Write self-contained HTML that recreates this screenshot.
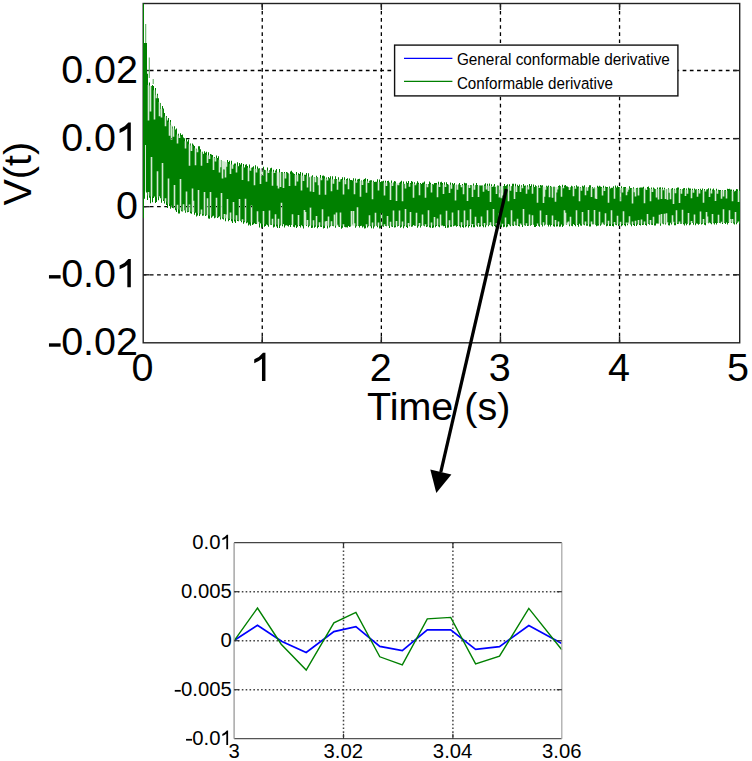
<!DOCTYPE html>
<html><head><meta charset="utf-8"><style>
html,body{margin:0;padding:0;background:#fff;}
body{width:752px;height:761px;overflow:hidden;font-family:"Liberation Sans", sans-serif;}
svg{display:block;}
</style></head><body>
<svg width="752" height="761" viewBox="0 0 752 761" font-family='"Liberation Sans", sans-serif'><rect width="752" height="761" fill="#fff"/><path d="M144.5 52.3 L145.5 52.4 L146.5 52.4 L147.5 76.5 L148.5 85.0 L149.5 85.5 L150.5 86.0 L151.5 86.5 L152.5 87.0 L153.5 88.5 L154.5 90.1 L155.5 92.4 L156.5 95.4 L157.5 97.9 L158.5 99.9 L159.5 102.0 L160.5 105.5 L161.5 108.9 L162.5 110.8 L163.5 112.7 L164.5 114.6 L165.5 116.5 L166.5 117.9 L167.5 119.2 L168.5 120.6 L169.5 121.9 L170.5 123.5 L171.5 125.1 L172.5 126.8 L173.5 128.5 L174.5 130.2 L175.5 131.7 L176.5 133.1 L177.5 134.4 L178.5 135.5 L179.5 136.3 L180.5 137.1 L181.5 138.0 L182.5 138.8 L183.5 139.6 L184.5 140.4 L185.5 141.2 L186.5 141.9 L187.5 142.7 L188.5 143.4 L189.5 144.2 L190.5 144.9 L191.5 145.7 L192.5 146.5 L193.5 147.0 L194.5 147.6 L195.5 148.2 L196.5 148.8 L197.5 149.4 L198.5 150.0 L199.5 150.6 L200.5 151.2 L201.5 151.7 L202.5 152.3 L203.5 152.9 L204.5 153.5 L205.5 154.1 L206.5 154.5 L207.5 154.9 L208.5 155.3 L209.5 155.7 L210.5 156.1 L211.5 156.5 L212.5 156.9 L213.5 157.3 L214.5 157.7 L215.5 158.1 L216.5 158.5 L217.5 158.9 L218.5 159.3 L219.5 159.7 L220.5 160.1 L221.5 160.5 L222.5 160.9 L223.5 161.3 L224.5 161.6 L225.5 162.0 L226.5 162.4 L227.5 162.8 L228.5 163.2 L229.5 163.6 L230.5 164.0 L231.5 164.3 L232.5 164.6 L233.5 164.8 L234.5 165.0 L235.5 165.2 L236.5 165.4 L237.5 165.6 L238.5 165.8 L239.5 166.0 L240.5 166.2 L241.5 166.4 L242.5 166.6 L243.5 166.8 L244.5 167.0 L245.5 167.2 L246.5 167.3 L247.5 167.5 L248.5 167.7 L249.5 167.8 L250.5 168.0 L251.5 168.2 L252.5 168.3 L253.5 168.5 L254.5 168.6 L255.5 168.8 L256.5 169.0 L257.5 169.1 L258.5 169.3 L259.5 169.4 L260.5 169.6 L261.5 169.8 L262.5 169.9 L263.5 170.1 L264.5 170.2 L265.5 170.4 L266.5 170.5 L267.5 170.7 L268.5 170.8 L269.5 170.9 L270.5 171.1 L271.5 171.2 L272.5 171.4 L273.5 171.5 L274.5 171.7 L275.5 171.8 L276.5 172.0 L277.5 172.1 L278.5 172.3 L279.5 172.4 L280.5 172.6 L281.5 172.7 L282.5 172.9 L283.5 173.0 L284.5 173.2 L285.5 173.3 L286.5 173.5 L287.5 173.6 L288.5 173.8 L289.5 173.9 L290.5 174.0 L291.5 174.2 L292.5 174.3 L293.5 174.4 L294.5 174.6 L295.5 174.7 L296.5 174.8 L297.5 175.0 L298.5 175.1 L299.5 175.2 L300.5 175.3 L301.5 175.5 L302.5 175.6 L303.5 175.7 L304.5 175.9 L305.5 176.0 L306.5 176.1 L307.5 176.3 L308.5 176.4 L309.5 176.5 L310.5 176.6 L311.5 176.8 L312.5 176.9 L313.5 177.0 L314.5 177.2 L315.5 177.3 L316.5 177.4 L317.5 177.6 L318.5 177.7 L319.5 177.8 L320.5 177.9 L321.5 178.1 L322.5 178.2 L323.5 178.3 L324.5 178.5 L325.5 178.6 L326.5 178.7 L327.5 178.9 L328.5 179.0 L329.5 179.1 L330.5 179.2 L331.5 179.3 L332.5 179.3 L333.5 179.4 L334.5 179.4 L335.5 179.5 L336.5 179.6 L337.5 179.6 L338.5 179.7 L339.5 179.8 L340.5 179.8 L341.5 179.9 L342.5 179.9 L343.5 180.0 L344.5 180.0 L345.5 180.1 L346.5 180.2 L347.5 180.2 L348.5 180.3 L349.5 180.3 L350.5 180.4 L351.5 180.5 L352.5 180.5 L353.5 180.6 L354.5 180.6 L355.5 180.7 L356.5 180.8 L357.5 180.8 L358.5 180.9 L359.5 180.9 L360.5 181.0 L361.5 181.1 L362.5 181.1 L363.5 181.2 L364.5 181.2 L365.5 181.3 L366.5 181.4 L367.5 181.4 L368.5 181.5 L369.5 181.6 L370.5 181.6 L371.5 181.7 L372.5 181.7 L373.5 181.8 L374.5 181.8 L375.5 181.9 L376.5 182.0 L377.5 182.0 L378.5 182.1 L379.5 182.2 L380.5 182.2 L381.5 182.3 L382.5 182.3 L383.5 182.4 L384.5 182.5 L385.5 182.5 L386.5 182.6 L387.5 182.6 L388.5 182.7 L389.5 182.8 L390.5 182.8 L391.5 182.9 L392.5 182.9 L393.5 183.0 L394.5 183.1 L395.5 183.1 L396.5 183.2 L397.5 183.2 L398.5 183.3 L399.5 183.4 L400.5 183.4 L401.5 183.4 L402.5 183.4 L403.5 183.5 L404.5 183.5 L405.5 183.5 L406.5 183.6 L407.5 183.6 L408.5 183.6 L409.5 183.6 L410.5 183.7 L411.5 183.7 L412.5 183.7 L413.5 183.8 L414.5 183.8 L415.5 183.8 L416.5 183.8 L417.5 183.9 L418.5 183.9 L419.5 183.9 L420.5 183.9 L421.5 184.0 L422.5 184.0 L423.5 184.0 L424.5 184.1 L425.5 184.1 L426.5 184.1 L427.5 184.1 L428.5 184.2 L429.5 184.2 L430.5 184.2 L431.5 184.2 L432.5 184.3 L433.5 184.3 L434.5 184.3 L435.5 184.4 L436.5 184.4 L437.5 184.4 L438.5 184.4 L439.5 184.5 L440.5 184.5 L441.5 184.5 L442.5 184.6 L443.5 184.6 L444.5 184.6 L445.5 184.6 L446.5 184.7 L447.5 184.7 L448.5 184.7 L449.5 184.7 L450.5 184.8 L451.5 184.8 L452.5 184.8 L453.5 184.9 L454.5 184.9 L455.5 184.9 L456.5 184.9 L457.5 185.0 L458.5 185.0 L459.5 185.0 L460.5 185.0 L461.5 185.1 L462.5 185.1 L463.5 185.1 L464.5 185.2 L465.5 185.2 L466.5 185.2 L467.5 185.2 L468.5 185.3 L469.5 185.3 L470.5 185.3 L471.5 185.4 L472.5 185.4 L473.5 185.4 L474.5 185.4 L475.5 185.5 L476.5 185.5 L477.5 185.5 L478.5 185.5 L479.5 185.6 L480.5 185.6 L481.5 185.6 L482.5 185.7 L483.5 185.7 L484.5 185.7 L485.5 185.7 L486.5 185.8 L487.5 185.8 L488.5 185.8 L489.5 185.9 L490.5 185.9 L491.5 185.9 L492.5 185.9 L493.5 186.0 L494.5 186.0 L495.5 186.0 L496.5 186.0 L497.5 186.1 L498.5 186.1 L499.5 186.1 L500.5 186.1 L501.5 186.2 L502.5 186.2 L503.5 186.2 L504.5 186.2 L505.5 186.2 L506.5 186.2 L507.5 186.3 L508.5 186.3 L509.5 186.3 L510.5 186.3 L511.5 186.3 L512.5 186.3 L513.5 186.4 L514.5 186.4 L515.5 186.4 L516.5 186.4 L517.5 186.4 L518.5 186.4 L519.5 186.5 L520.5 186.5 L521.5 186.5 L522.5 186.5 L523.5 186.5 L524.5 186.5 L525.5 186.5 L526.5 186.6 L527.5 186.6 L528.5 186.6 L529.5 186.6 L530.5 186.6 L531.5 186.6 L532.5 186.7 L533.5 186.7 L534.5 186.7 L535.5 186.7 L536.5 186.7 L537.5 186.7 L538.5 186.8 L539.5 186.8 L540.5 186.8 L541.5 186.8 L542.5 186.8 L543.5 186.8 L544.5 186.8 L545.5 186.9 L546.5 186.9 L547.5 186.9 L548.5 186.9 L549.5 186.9 L550.5 186.9 L551.5 187.0 L552.5 187.0 L553.5 187.0 L554.5 187.0 L555.5 187.0 L556.5 187.0 L557.5 187.1 L558.5 187.1 L559.5 187.1 L560.5 187.1 L561.5 187.1 L562.5 187.1 L563.5 187.2 L564.5 187.2 L565.5 187.2 L566.5 187.2 L567.5 187.2 L568.5 187.2 L569.5 187.2 L570.5 187.3 L571.5 187.3 L572.5 187.3 L573.5 187.3 L574.5 187.3 L575.5 187.3 L576.5 187.4 L577.5 187.4 L578.5 187.4 L579.5 187.4 L580.5 187.4 L581.5 187.4 L582.5 187.5 L583.5 187.5 L584.5 187.5 L585.5 187.5 L586.5 187.5 L587.5 187.5 L588.5 187.6 L589.5 187.6 L590.5 187.6 L591.5 187.6 L592.5 187.6 L593.5 187.6 L594.5 187.6 L595.5 187.7 L596.5 187.7 L597.5 187.7 L598.5 187.7 L599.5 187.7 L600.5 187.7 L601.5 187.8 L602.5 187.8 L603.5 187.8 L604.5 187.8 L605.5 187.8 L606.5 187.8 L607.5 187.9 L608.5 187.9 L609.5 187.9 L610.5 187.9 L611.5 187.9 L612.5 187.9 L613.5 188.0 L614.5 188.0 L615.5 188.0 L616.5 188.0 L617.5 188.0 L618.5 188.0 L619.5 188.0 L620.5 188.1 L621.5 188.1 L622.5 188.1 L623.5 188.1 L624.5 188.2 L625.5 188.2 L626.5 188.2 L627.5 188.2 L628.5 188.3 L629.5 188.3 L630.5 188.3 L631.5 188.3 L632.5 188.4 L633.5 188.4 L634.5 188.4 L635.5 188.5 L636.5 188.5 L637.5 188.5 L638.5 188.5 L639.5 188.6 L640.5 188.6 L641.5 188.6 L642.5 188.6 L643.5 188.7 L644.5 188.7 L645.5 188.7 L646.5 188.7 L647.5 188.8 L648.5 188.8 L649.5 188.8 L650.5 188.8 L651.5 188.9 L652.5 188.9 L653.5 188.9 L654.5 188.9 L655.5 189.0 L656.5 189.0 L657.5 189.0 L658.5 189.0 L659.5 189.1 L660.5 189.1 L661.5 189.1 L662.5 189.1 L663.5 189.2 L664.5 189.2 L665.5 189.2 L666.5 189.2 L667.5 189.3 L668.5 189.3 L669.5 189.3 L670.5 189.4 L671.5 189.4 L672.5 189.4 L673.5 189.4 L674.5 189.5 L675.5 189.5 L676.5 189.5 L677.5 189.5 L678.5 189.6 L679.5 189.6 L680.5 189.6 L681.5 189.6 L682.5 189.7 L683.5 189.7 L684.5 189.7 L685.5 189.7 L686.5 189.8 L687.5 189.8 L688.5 189.8 L689.5 189.8 L690.5 189.9 L691.5 189.9 L692.5 189.9 L693.5 189.9 L694.5 190.0 L695.5 190.0 L696.5 190.0 L697.5 190.0 L698.5 190.1 L699.5 190.1 L700.5 190.1 L701.5 190.1 L702.5 190.2 L703.5 190.2 L704.5 190.2 L705.5 190.2 L706.5 190.3 L707.5 190.3 L708.5 190.3 L709.5 190.4 L710.5 190.4 L711.5 190.4 L712.5 190.4 L713.5 190.5 L714.5 190.5 L715.5 190.5 L716.5 190.5 L717.5 190.6 L718.5 190.6 L719.5 190.6 L720.5 190.6 L721.5 190.7 L722.5 190.7 L723.5 190.7 L724.5 190.7 L725.5 190.8 L726.5 190.8 L727.5 190.8 L728.5 190.8 L729.5 190.9 L730.5 190.9 L731.5 190.9 L732.5 190.9 L733.5 191.0 L734.5 191.0 L735.5 191.0 L736.5 191.0 L737.5 191.1 L738.5 191.1 L739.5 191.1 L739.5 222.5 L738.5 222.5 L737.5 222.5 L736.5 222.5 L735.5 222.5 L734.5 222.5 L733.5 222.5 L732.5 222.6 L731.5 222.6 L730.5 222.6 L729.5 222.6 L728.5 222.6 L727.5 222.6 L726.5 222.6 L725.5 222.7 L724.5 222.7 L723.5 222.7 L722.5 222.7 L721.5 222.7 L720.5 222.7 L719.5 222.7 L718.5 222.7 L717.5 222.8 L716.5 222.8 L715.5 222.8 L714.5 222.8 L713.5 222.8 L712.5 222.8 L711.5 222.8 L710.5 222.9 L709.5 222.9 L708.5 222.9 L707.5 222.9 L706.5 222.9 L705.5 222.9 L704.5 222.9 L703.5 222.9 L702.5 223.0 L701.5 223.0 L700.5 223.0 L699.5 223.0 L698.5 223.0 L697.5 223.0 L696.5 223.0 L695.5 223.1 L694.5 223.1 L693.5 223.1 L692.5 223.1 L691.5 223.1 L690.5 223.1 L689.5 223.1 L688.5 223.1 L687.5 223.2 L686.5 223.2 L685.5 223.2 L684.5 223.2 L683.5 223.2 L682.5 223.2 L681.5 223.2 L680.5 223.2 L679.5 223.3 L678.5 223.3 L677.5 223.3 L676.5 223.3 L675.5 223.3 L674.5 223.3 L673.5 223.3 L672.5 223.4 L671.5 223.4 L670.5 223.4 L669.5 223.4 L668.5 223.4 L667.5 223.4 L666.5 223.4 L665.5 223.4 L664.5 223.5 L663.5 223.5 L662.5 223.5 L661.5 223.5 L660.5 223.5 L659.5 223.5 L658.5 223.5 L657.5 223.6 L656.5 223.6 L655.5 223.6 L654.5 223.6 L653.5 223.6 L652.5 223.6 L651.5 223.6 L650.5 223.6 L649.5 223.7 L648.5 223.7 L647.5 223.7 L646.5 223.7 L645.5 223.7 L644.5 223.7 L643.5 223.7 L642.5 223.7 L641.5 223.8 L640.5 223.8 L639.5 223.8 L638.5 223.8 L637.5 223.8 L636.5 223.8 L635.5 223.8 L634.5 223.9 L633.5 223.9 L632.5 223.9 L631.5 223.9 L630.5 223.9 L629.5 223.9 L628.5 223.9 L627.5 223.9 L626.5 224.0 L625.5 224.0 L624.5 224.0 L623.5 224.0 L622.5 224.0 L621.5 224.0 L620.5 224.0 L619.5 224.0 L618.5 224.1 L617.5 224.1 L616.5 224.1 L615.5 224.1 L614.5 224.1 L613.5 224.1 L612.5 224.1 L611.5 224.1 L610.5 224.1 L609.5 224.1 L608.5 224.1 L607.5 224.1 L606.5 224.1 L605.5 224.1 L604.5 224.2 L603.5 224.2 L602.5 224.2 L601.5 224.2 L600.5 224.2 L599.5 224.2 L598.5 224.2 L597.5 224.2 L596.5 224.2 L595.5 224.2 L594.5 224.2 L593.5 224.2 L592.5 224.2 L591.5 224.2 L590.5 224.2 L589.5 224.3 L588.5 224.3 L587.5 224.3 L586.5 224.3 L585.5 224.3 L584.5 224.3 L583.5 224.3 L582.5 224.3 L581.5 224.3 L580.5 224.3 L579.5 224.3 L578.5 224.3 L577.5 224.3 L576.5 224.3 L575.5 224.3 L574.5 224.4 L573.5 224.4 L572.5 224.4 L571.5 224.4 L570.5 224.4 L569.5 224.4 L568.5 224.4 L567.5 224.4 L566.5 224.4 L565.5 224.4 L564.5 224.4 L563.5 224.4 L562.5 224.4 L561.5 224.4 L560.5 224.4 L559.5 224.5 L558.5 224.5 L557.5 224.5 L556.5 224.5 L555.5 224.5 L554.5 224.5 L553.5 224.5 L552.5 224.5 L551.5 224.5 L550.5 224.5 L549.5 224.5 L548.5 224.5 L547.5 224.5 L546.5 224.5 L545.5 224.6 L544.5 224.6 L543.5 224.6 L542.5 224.6 L541.5 224.6 L540.5 224.6 L539.5 224.6 L538.5 224.6 L537.5 224.6 L536.5 224.6 L535.5 224.6 L534.5 224.6 L533.5 224.6 L532.5 224.6 L531.5 224.6 L530.5 224.7 L529.5 224.7 L528.5 224.7 L527.5 224.7 L526.5 224.7 L525.5 224.7 L524.5 224.7 L523.5 224.7 L522.5 224.7 L521.5 224.7 L520.5 224.7 L519.5 224.7 L518.5 224.7 L517.5 224.7 L516.5 224.7 L515.5 224.8 L514.5 224.8 L513.5 224.8 L512.5 224.8 L511.5 224.8 L510.5 224.8 L509.5 224.8 L508.5 224.8 L507.5 224.8 L506.5 224.8 L505.5 224.8 L504.5 224.8 L503.5 224.8 L502.5 224.8 L501.5 224.8 L500.5 224.9 L499.5 224.9 L498.5 224.9 L497.5 224.9 L496.5 224.9 L495.5 224.9 L494.5 224.9 L493.5 224.9 L492.5 224.9 L491.5 224.9 L490.5 224.9 L489.5 224.9 L488.5 224.9 L487.5 225.0 L486.5 225.0 L485.5 225.0 L484.5 225.0 L483.5 225.0 L482.5 225.0 L481.5 225.0 L480.5 225.0 L479.5 225.0 L478.5 225.0 L477.5 225.0 L476.5 225.0 L475.5 225.0 L474.5 225.1 L473.5 225.1 L472.5 225.1 L471.5 225.1 L470.5 225.1 L469.5 225.1 L468.5 225.1 L467.5 225.1 L466.5 225.1 L465.5 225.1 L464.5 225.1 L463.5 225.1 L462.5 225.1 L461.5 225.2 L460.5 225.2 L459.5 225.2 L458.5 225.2 L457.5 225.2 L456.5 225.2 L455.5 225.2 L454.5 225.2 L453.5 225.2 L452.5 225.2 L451.5 225.2 L450.5 225.2 L449.5 225.2 L448.5 225.3 L447.5 225.3 L446.5 225.3 L445.5 225.3 L444.5 225.3 L443.5 225.3 L442.5 225.3 L441.5 225.3 L440.5 225.3 L439.5 225.3 L438.5 225.3 L437.5 225.3 L436.5 225.3 L435.5 225.4 L434.5 225.4 L433.5 225.4 L432.5 225.4 L431.5 225.4 L430.5 225.4 L429.5 225.4 L428.5 225.4 L427.5 225.4 L426.5 225.4 L425.5 225.4 L424.5 225.4 L423.5 225.4 L422.5 225.4 L421.5 225.5 L420.5 225.5 L419.5 225.5 L418.5 225.5 L417.5 225.5 L416.5 225.5 L415.5 225.5 L414.5 225.5 L413.5 225.5 L412.5 225.5 L411.5 225.5 L410.5 225.5 L409.5 225.5 L408.5 225.6 L407.5 225.6 L406.5 225.6 L405.5 225.6 L404.5 225.6 L403.5 225.6 L402.5 225.6 L401.5 225.6 L400.5 225.6 L399.5 225.6 L398.5 225.6 L397.5 225.6 L396.5 225.6 L395.5 225.6 L394.5 225.6 L393.5 225.6 L392.5 225.6 L391.5 225.6 L390.5 225.6 L389.5 225.6 L388.5 225.7 L387.5 225.7 L386.5 225.7 L385.5 225.7 L384.5 225.7 L383.5 225.7 L382.5 225.7 L381.5 225.7 L380.5 225.7 L379.5 225.7 L378.5 225.7 L377.5 225.7 L376.5 225.7 L375.5 225.7 L374.5 225.7 L373.5 225.7 L372.5 225.7 L371.5 225.7 L370.5 225.7 L369.5 225.7 L368.5 225.7 L367.5 225.7 L366.5 225.7 L365.5 225.7 L364.5 225.7 L363.5 225.7 L362.5 225.7 L361.5 225.7 L360.5 225.7 L359.5 225.7 L358.5 225.7 L357.5 225.7 L356.5 225.7 L355.5 225.7 L354.5 225.8 L353.5 225.8 L352.5 225.8 L351.5 225.8 L350.5 225.8 L349.5 225.8 L348.5 225.8 L347.5 225.8 L346.5 225.8 L345.5 225.8 L344.5 225.8 L343.5 225.8 L342.5 225.8 L341.5 225.8 L340.5 225.8 L339.5 225.8 L338.5 225.8 L337.5 225.8 L336.5 225.8 L335.5 225.8 L334.5 225.8 L333.5 225.8 L332.5 225.8 L331.5 225.8 L330.5 225.8 L329.5 225.8 L328.5 225.8 L327.5 225.8 L326.5 225.7 L325.5 225.7 L324.5 225.7 L323.5 225.7 L322.5 225.7 L321.5 225.6 L320.5 225.6 L319.5 225.6 L318.5 225.6 L317.5 225.5 L316.5 225.5 L315.5 225.5 L314.5 225.5 L313.5 225.5 L312.5 225.4 L311.5 225.4 L310.5 225.4 L309.5 225.4 L308.5 225.3 L307.5 225.3 L306.5 225.3 L305.5 225.3 L304.5 225.3 L303.5 225.2 L302.5 225.2 L301.5 225.2 L300.5 225.2 L299.5 225.1 L298.5 225.1 L297.5 225.1 L296.5 225.1 L295.5 225.1 L294.5 225.0 L293.5 225.0 L292.5 225.0 L291.5 225.0 L290.5 224.9 L289.5 224.9 L288.5 224.9 L287.5 224.9 L286.5 224.9 L285.5 224.8 L284.5 224.8 L283.5 224.8 L282.5 224.8 L281.5 224.7 L280.5 224.7 L279.5 224.7 L278.5 224.7 L277.5 224.6 L276.5 224.6 L275.5 224.6 L274.5 224.6 L273.5 224.6 L272.5 224.5 L271.5 224.5 L270.5 224.5 L269.5 224.5 L268.5 224.4 L267.5 224.4 L266.5 224.4 L265.5 224.4 L264.5 224.3 L263.5 224.3 L262.5 224.3 L261.5 224.2 L260.5 224.0 L259.5 223.8 L258.5 223.7 L257.5 223.5 L256.5 223.3 L255.5 223.1 L254.5 223.0 L253.5 222.8 L252.5 222.6 L251.5 222.4 L250.5 222.3 L249.5 222.1 L248.5 221.9 L247.5 221.7 L246.5 221.6 L245.5 221.4 L244.5 221.2 L243.5 221.1 L242.5 220.9 L241.5 220.8 L240.5 220.6 L239.5 220.5 L238.5 220.3 L237.5 220.2 L236.5 220.0 L235.5 219.9 L234.5 219.7 L233.5 219.6 L232.5 219.4 L231.5 219.3 L230.5 219.1 L229.5 218.9 L228.5 218.8 L227.5 218.6 L226.5 218.4 L225.5 218.3 L224.5 218.1 L223.5 217.9 L222.5 217.8 L221.5 217.6 L220.5 217.5 L219.5 217.3 L218.5 217.1 L217.5 217.0 L216.5 216.8 L215.5 216.6 L214.5 216.4 L213.5 216.2 L212.5 216.1 L211.5 215.9 L210.5 215.7 L209.5 215.5 L208.5 215.3 L207.5 215.1 L206.5 215.0 L205.5 214.8 L204.5 214.6 L203.5 214.4 L202.5 214.2 L201.5 214.0 L200.5 213.8 L199.5 213.6 L198.5 213.2 L197.5 212.9 L196.5 212.6 L195.5 212.3 L194.5 212.1 L193.5 212.0 L192.5 211.9 L191.5 211.8 L190.5 211.7 L189.5 211.6 L188.5 211.5 L187.5 211.4 L186.5 211.3 L185.5 211.1 L184.5 211.0 L183.5 210.9 L182.5 210.8 L181.5 210.6 L180.5 210.2 L179.5 209.9 L178.5 209.5 L177.5 209.1 L176.5 208.7 L175.5 208.3 L174.5 207.8 L173.5 207.2 L172.5 206.6 L171.5 205.9 L170.5 205.3 L169.5 204.6 L168.5 203.8 L167.5 203.1 L166.5 202.3 L165.5 201.6 L164.5 200.8 L163.5 200.1 L162.5 199.5 L161.5 198.8 L160.5 198.0 L159.5 197.5 L158.5 197.4 L157.5 197.2 L156.5 197.1 L155.5 196.9 L154.5 196.7 L153.5 196.6 L152.5 196.5 L151.5 196.5 L150.5 196.5 L149.5 196.1 L148.5 195.4 L147.5 194.2 L146.5 192.0 L145.5 191.4 L144.5 190.7Z" fill="#d3e9d3"/><g stroke="#000" stroke-width="1.3" fill="none"><line x1="262.25" y1="3.5" x2="262.25" y2="342.8" stroke-dasharray="3.6 3.55" stroke-dashoffset="-0.25"/><line x1="381.35" y1="3.5" x2="381.35" y2="342.8" stroke-dasharray="3.6 3.55" stroke-dashoffset="-0.25"/><line x1="500.45" y1="3.5" x2="500.45" y2="342.8" stroke-dasharray="3.6 3.55" stroke-dashoffset="-0.25"/><line x1="619.55" y1="3.5" x2="619.55" y2="342.8" stroke-dasharray="3.6 3.55" stroke-dashoffset="-0.25"/><line x1="143.2" y1="70.50" x2="739.7" y2="70.50" stroke-dasharray="3.7 3.5" stroke-dashoffset="0.55"/><line x1="143.2" y1="138.60" x2="739.7" y2="138.60" stroke-dasharray="3.7 3.5" stroke-dashoffset="0.55"/><line x1="143.2" y1="206.70" x2="739.7" y2="206.70" stroke-dasharray="3.7 3.5" stroke-dashoffset="0.55"/><line x1="143.2" y1="274.80" x2="739.7" y2="274.80" stroke-dasharray="3.7 3.5" stroke-dashoffset="0.55"/></g><g stroke="#222" stroke-width="1.4" fill="none"><rect x="143.2" y="3.5" width="596.50" height="339.30"/><line x1="262.25" y1="342.8" x2="262.25" y2="336.3"/><line x1="262.25" y1="3.5" x2="262.25" y2="10.0"/><line x1="381.35" y1="342.8" x2="381.35" y2="336.3"/><line x1="381.35" y1="3.5" x2="381.35" y2="10.0"/><line x1="500.45" y1="342.8" x2="500.45" y2="336.3"/><line x1="500.45" y1="3.5" x2="500.45" y2="10.0"/><line x1="619.55" y1="342.8" x2="619.55" y2="336.3"/><line x1="619.55" y1="3.5" x2="619.55" y2="10.0"/><line x1="143.2" y1="70.50" x2="149.7" y2="70.50"/><line x1="739.7" y1="70.50" x2="733.2" y2="70.50"/><line x1="143.2" y1="138.60" x2="149.7" y2="138.60"/><line x1="739.7" y1="138.60" x2="733.2" y2="138.60"/><line x1="143.2" y1="206.70" x2="149.7" y2="206.70"/><line x1="739.7" y1="206.70" x2="733.2" y2="206.70"/><line x1="143.2" y1="274.80" x2="149.7" y2="274.80"/><line x1="739.7" y1="274.80" x2="733.2" y2="274.80"/></g><path d="M143.00 3.50h1.00V218.00h-1.00ZM144.00 42.90h1.00V198.63h-1.00ZM145.00 42.90h1.00V145.03h-1.00ZM146.00 42.90h1.00V192.44h-1.00ZM147.00 73.68h1.00V199.90h-1.00ZM148.00 120.38h1.00V191.94h-1.00ZM149.00 82.38h1.00V197.82h-1.00ZM150.00 111.38h1.00V203.32h-1.00ZM151.00 85.98h1.00V156.99h-1.00ZM152.00 85.04h1.00V202.37h-1.00ZM153.00 86.03h1.00V197.96h-1.00ZM154.00 119.41h1.00V196.46h-1.00ZM155.00 88.08h1.00V202.96h-1.00ZM156.00 98.25h1.00V202.09h-1.00ZM157.00 93.81h1.00V171.33h-1.00ZM158.00 98.26h1.00V200.23h-1.00ZM159.00 116.24h1.00V196.37h-1.00ZM160.00 103.08h1.00V198.18h-1.00ZM161.00 117.58h1.00V202.64h-1.00ZM162.00 105.94h1.00V163.02h-1.00ZM163.00 108.52h1.00V201.04h-1.00ZM164.00 112.89h1.00V203.50h-1.00ZM165.00 126.20h1.00V198.26h-1.00ZM166.00 115.96h1.00V205.07h-1.00ZM167.00 120.53h1.00V208.08h-1.00ZM168.00 117.94h1.00V178.42h-1.00ZM169.00 135.87h1.00V206.06h-1.00ZM170.00 120.00h1.00V208.69h-1.00ZM171.00 139.80h1.00V205.82h-1.00ZM172.00 126.41h1.00V207.96h-1.00ZM173.00 136.66h1.00V208.20h-1.00ZM174.00 126.26h1.00V185.02h-1.00ZM175.00 129.49h1.00V210.33h-1.00ZM176.00 128.44h1.00V211.88h-1.00ZM177.00 143.54h1.00V204.75h-1.00ZM178.00 133.79h1.00V213.55h-1.00ZM179.00 137.91h1.00V213.47h-1.00ZM180.00 133.26h1.00V178.88h-1.00ZM181.00 135.06h1.00V211.15h-1.00ZM182.00 134.56h1.00V211.40h-1.00ZM183.00 137.58h1.00V204.27h-1.00ZM184.00 138.16h1.00V210.29h-1.00ZM185.00 148.46h1.00V212.72h-1.00ZM186.00 138.45h1.00V191.43h-1.00ZM187.00 141.58h1.00V212.37h-1.00ZM188.00 139.54h1.00V212.05h-1.00ZM189.00 165.86h1.00V204.52h-1.00ZM190.00 143.52h1.00V213.20h-1.00ZM191.00 151.11h1.00V213.75h-1.00ZM192.00 143.44h1.00V188.61h-1.00ZM193.00 144.74h1.00V200.83h-1.00ZM194.00 146.03h1.00V214.75h-1.00ZM195.00 165.22h1.00V212.86h-1.00ZM196.00 148.63h1.00V216.45h-1.00ZM197.00 152.14h1.00V215.59h-1.00ZM198.00 146.36h1.00V190.09h-1.00ZM199.00 146.33h1.00V215.99h-1.00ZM200.00 149.29h1.00V214.30h-1.00ZM201.00 165.79h1.00V209.48h-1.00ZM202.00 151.83h1.00V215.78h-1.00ZM203.00 153.89h1.00V215.59h-1.00ZM204.00 151.21h1.00V192.11h-1.00ZM205.00 152.64h1.00V216.03h-1.00ZM206.00 151.76h1.00V215.28h-1.00ZM207.00 163.09h1.00V198.33h-1.00ZM208.00 152.18h1.00V218.60h-1.00ZM209.00 158.98h1.00V218.73h-1.00ZM210.00 153.93h1.00V191.96h-1.00ZM211.00 154.48h1.00V217.65h-1.00ZM212.00 154.90h1.00V216.42h-1.00ZM213.00 169.96h1.00V215.81h-1.00ZM214.00 156.89h1.00V218.33h-1.00ZM215.00 161.51h1.00V217.61h-1.00ZM216.00 155.39h1.00V197.67h-1.00ZM217.00 158.04h1.00V218.01h-1.00ZM218.00 156.28h1.00V217.16h-1.00ZM219.00 172.62h1.00V216.13h-1.00ZM220.00 167.25h1.00V219.56h-1.00ZM221.00 160.25h1.00V193.02h-1.00ZM222.00 178.43h1.00V218.84h-1.00ZM223.00 169.25h1.00V219.39h-1.00ZM224.00 169.38h1.00V214.03h-1.00ZM225.00 177.41h1.00V221.17h-1.00ZM226.00 166.75h1.00V214.41h-1.00ZM227.00 159.98h1.00V199.04h-1.00ZM228.00 162.05h1.00V221.33h-1.00ZM229.00 160.71h1.00V219.94h-1.00ZM230.00 173.91h1.00V212.51h-1.00ZM231.00 160.87h1.00V221.14h-1.00ZM232.00 168.75h1.00V222.89h-1.00ZM233.00 164.68h1.00V201.91h-1.00ZM234.00 163.49h1.00V221.45h-1.00ZM235.00 163.39h1.00V222.92h-1.00ZM236.00 172.53h1.00V215.28h-1.00ZM237.00 162.34h1.00V220.94h-1.00ZM238.00 166.24h1.00V221.13h-1.00ZM239.00 163.01h1.00V198.97h-1.00ZM240.00 164.47h1.00V220.71h-1.00ZM241.00 163.01h1.00V222.27h-1.00ZM242.00 179.92h1.00V219.36h-1.00ZM243.00 164.08h1.00V223.79h-1.00ZM244.00 167.47h1.00V222.29h-1.00ZM245.00 164.74h1.00V198.67h-1.00ZM246.00 164.22h1.00V223.14h-1.00ZM247.00 165.99h1.00V222.43h-1.00ZM248.00 181.17h1.00V225.38h-1.00ZM249.00 164.56h1.00V224.42h-1.00ZM250.00 170.71h1.00V225.80h-1.00ZM251.00 167.63h1.00V205.53h-1.00ZM252.00 167.36h1.00V224.90h-1.00ZM253.00 166.24h1.00V224.30h-1.00ZM254.00 185.33h1.00V223.21h-1.00ZM255.00 165.25h1.00V223.88h-1.00ZM256.00 172.55h1.00V224.02h-1.00ZM257.00 166.54h1.00V211.28h-1.00ZM258.00 168.50h1.00V221.84h-1.00ZM259.00 168.37h1.00V227.42h-1.00ZM260.00 183.90h1.00V223.20h-1.00ZM261.00 174.02h1.00V227.73h-1.00ZM262.00 176.04h1.00V226.97h-1.00ZM263.00 166.80h1.00V210.89h-1.00ZM264.00 169.71h1.00V226.65h-1.00ZM265.00 170.28h1.00V226.12h-1.00ZM266.00 181.76h1.00V224.56h-1.00ZM267.00 167.40h1.00V225.32h-1.00ZM268.00 173.04h1.00V226.63h-1.00ZM269.00 170.17h1.00V210.39h-1.00ZM270.00 168.31h1.00V224.71h-1.00ZM271.00 167.86h1.00V224.97h-1.00ZM272.00 185.69h1.00V218.87h-1.00ZM273.00 169.79h1.00V227.52h-1.00ZM274.00 172.91h1.00V226.87h-1.00ZM275.00 170.50h1.00V214.13h-1.00ZM276.00 169.05h1.00V226.49h-1.00ZM277.00 185.66h1.00V228.09h-1.00ZM278.00 188.57h1.00V218.86h-1.00ZM279.00 168.97h1.00V228.03h-1.00ZM280.00 186.99h1.00V225.62h-1.00ZM281.00 171.95h1.00V202.63h-1.00ZM282.00 172.35h1.00V226.23h-1.00ZM283.00 188.00h1.00V223.99h-1.00ZM284.00 171.92h1.00V227.57h-1.00ZM285.00 178.38h1.00V225.42h-1.00ZM286.00 172.07h1.00V225.27h-1.00ZM287.00 172.51h1.00V225.77h-1.00ZM288.00 173.61h1.00V226.54h-1.00ZM289.00 186.11h1.00V224.91h-1.00ZM290.00 171.56h1.00V226.97h-1.00ZM291.00 170.80h1.00V225.00h-1.00ZM292.00 172.32h1.00V214.24h-1.00ZM293.00 173.23h1.00V226.87h-1.00ZM294.00 173.91h1.00V227.34h-1.00ZM295.00 185.87h1.00V225.34h-1.00ZM296.00 171.95h1.00V227.89h-1.00ZM297.00 181.59h1.00V226.67h-1.00ZM298.00 173.37h1.00V215.01h-1.00ZM299.00 174.08h1.00V226.12h-1.00ZM300.00 171.99h1.00V227.60h-1.00ZM301.00 190.56h1.00V225.26h-1.00ZM302.00 172.76h1.00V226.28h-1.00ZM303.00 181.08h1.00V228.55h-1.00ZM304.00 174.75h1.00V209.99h-1.00ZM305.00 174.64h1.00V212.09h-1.00ZM306.00 173.11h1.00V225.88h-1.00ZM307.00 187.44h1.00V220.12h-1.00ZM308.00 173.21h1.00V227.23h-1.00ZM309.00 177.17h1.00V225.78h-1.00ZM310.00 191.42h1.00V207.53h-1.00ZM311.00 176.59h1.00V227.88h-1.00ZM312.00 175.27h1.00V227.73h-1.00ZM313.00 191.92h1.00V220.28h-1.00ZM314.00 177.10h1.00V227.72h-1.00ZM315.00 182.24h1.00V226.65h-1.00ZM316.00 175.71h1.00V215.89h-1.00ZM317.00 177.31h1.00V228.37h-1.00ZM318.00 185.23h1.00V227.09h-1.00ZM319.00 194.63h1.00V222.20h-1.00ZM320.00 174.94h1.00V226.77h-1.00ZM321.00 180.23h1.00V226.93h-1.00ZM322.00 175.83h1.00V209.17h-1.00ZM323.00 175.53h1.00V228.42h-1.00ZM324.00 176.20h1.00V228.06h-1.00ZM325.00 194.66h1.00V221.61h-1.00ZM326.00 177.39h1.00V221.05h-1.00ZM327.00 180.51h1.00V228.59h-1.00ZM328.00 177.02h1.00V216.44h-1.00ZM329.00 178.37h1.00V227.52h-1.00ZM330.00 176.34h1.00V226.21h-1.00ZM331.00 191.34h1.00V221.31h-1.00ZM332.00 176.34h1.00V225.95h-1.00ZM333.00 183.79h1.00V226.21h-1.00ZM334.00 179.24h1.00V214.62h-1.00ZM335.00 176.37h1.00V227.65h-1.00ZM336.00 178.92h1.00V212.42h-1.00ZM337.00 189.81h1.00V224.73h-1.00ZM338.00 177.15h1.00V226.55h-1.00ZM339.00 181.73h1.00V227.12h-1.00ZM340.00 179.57h1.00V212.39h-1.00ZM341.00 179.01h1.00V228.69h-1.00ZM342.00 177.33h1.00V227.72h-1.00ZM343.00 194.38h1.00V224.17h-1.00ZM344.00 177.25h1.00V226.69h-1.00ZM345.00 184.27h1.00V227.30h-1.00ZM346.00 179.08h1.00V227.32h-1.00ZM347.00 178.20h1.00V227.40h-1.00ZM348.00 189.25h1.00V226.05h-1.00ZM349.00 178.62h1.00V227.09h-1.00ZM350.00 180.05h1.00V226.57h-1.00ZM351.00 179.93h1.00V211.08h-1.00ZM352.00 180.48h1.00V224.44h-1.00ZM353.00 178.15h1.00V211.06h-1.00ZM354.00 194.20h1.00V223.35h-1.00ZM355.00 178.54h1.00V227.87h-1.00ZM356.00 182.79h1.00V226.13h-1.00ZM357.00 179.49h1.00V207.37h-1.00ZM358.00 179.00h1.00V225.96h-1.00ZM359.00 178.82h1.00V227.50h-1.00ZM360.00 196.66h1.00V225.98h-1.00ZM361.00 180.61h1.00V225.80h-1.00ZM362.00 185.02h1.00V227.41h-1.00ZM363.00 179.84h1.00V226.44h-1.00ZM364.00 178.89h1.00V228.44h-1.00ZM365.00 178.33h1.00V228.33h-1.00ZM366.00 192.77h1.00V224.17h-1.00ZM367.00 178.98h1.00V227.55h-1.00ZM368.00 183.01h1.00V226.21h-1.00ZM369.00 180.78h1.00V215.28h-1.00ZM370.00 180.30h1.00V226.14h-1.00ZM371.00 180.37h1.00V228.24h-1.00ZM372.00 199.22h1.00V222.43h-1.00ZM373.00 180.74h1.00V228.50h-1.00ZM374.00 181.98h1.00V226.48h-1.00ZM375.00 181.63h1.00V212.81h-1.00ZM376.00 181.83h1.00V225.75h-1.00ZM377.00 179.31h1.00V227.21h-1.00ZM378.00 190.50h1.00V222.55h-1.00ZM379.00 179.55h1.00V228.50h-1.00ZM380.00 181.88h1.00V227.90h-1.00ZM381.00 181.33h1.00V213.33h-1.00ZM382.00 181.33h1.00V226.32h-1.00ZM383.00 180.86h1.00V226.78h-1.00ZM384.00 195.46h1.00V224.30h-1.00ZM385.00 180.70h1.00V226.07h-1.00ZM386.00 186.04h1.00V226.37h-1.00ZM387.00 180.97h1.00V216.11h-1.00ZM388.00 180.68h1.00V225.73h-1.00ZM389.00 182.41h1.00V227.94h-1.00ZM390.00 200.04h1.00V221.66h-1.00ZM391.00 180.48h1.00V226.42h-1.00ZM392.00 185.98h1.00V227.01h-1.00ZM393.00 182.48h1.00V210.54h-1.00ZM394.00 181.08h1.00V227.39h-1.00ZM395.00 181.54h1.00V227.18h-1.00ZM396.00 200.99h1.00V220.96h-1.00ZM397.00 184.69h1.00V226.38h-1.00ZM398.00 185.21h1.00V226.08h-1.00ZM399.00 182.74h1.00V210.62h-1.00ZM400.00 181.75h1.00V227.80h-1.00ZM401.00 180.82h1.00V226.63h-1.00ZM402.00 201.19h1.00V221.62h-1.00ZM403.00 181.50h1.00V228.31h-1.00ZM404.00 184.00h1.00V226.37h-1.00ZM405.00 188.55h1.00V209.03h-1.00ZM406.00 181.40h1.00V226.98h-1.00ZM407.00 183.11h1.00V227.91h-1.00ZM408.00 180.89h1.00V222.98h-1.00ZM409.00 186.71h1.00V226.15h-1.00ZM410.00 183.01h1.00V211.96h-1.00ZM411.00 180.89h1.00V226.70h-1.00ZM412.00 181.69h1.00V226.43h-1.00ZM413.00 197.83h1.00V225.07h-1.00ZM414.00 182.20h1.00V225.66h-1.00ZM415.00 185.37h1.00V225.67h-1.00ZM416.00 183.56h1.00V212.87h-1.00ZM417.00 181.19h1.00V227.71h-1.00ZM418.00 182.79h1.00V226.36h-1.00ZM419.00 195.36h1.00V222.90h-1.00ZM420.00 182.91h1.00V227.52h-1.00ZM421.00 183.98h1.00V225.75h-1.00ZM422.00 182.76h1.00V214.48h-1.00ZM423.00 182.50h1.00V225.57h-1.00ZM424.00 181.62h1.00V226.31h-1.00ZM425.00 197.79h1.00V224.33h-1.00ZM426.00 184.06h1.00V226.97h-1.00ZM427.00 187.29h1.00V226.57h-1.00ZM428.00 184.01h1.00V210.31h-1.00ZM429.00 181.50h1.00V227.20h-1.00ZM430.00 182.69h1.00V227.66h-1.00ZM431.00 192.52h1.00V222.51h-1.00ZM432.00 184.11h1.00V227.94h-1.00ZM433.00 184.52h1.00V227.56h-1.00ZM434.00 183.03h1.00V217.04h-1.00ZM435.00 182.92h1.00V227.13h-1.00ZM436.00 183.11h1.00V226.00h-1.00ZM437.00 197.24h1.00V218.49h-1.00ZM438.00 181.85h1.00V226.52h-1.00ZM439.00 187.11h1.00V227.22h-1.00ZM440.00 182.31h1.00V214.47h-1.00ZM441.00 181.84h1.00V225.52h-1.00ZM442.00 183.12h1.00V225.45h-1.00ZM443.00 193.93h1.00V226.21h-1.00ZM444.00 182.19h1.00V225.93h-1.00ZM445.00 187.06h1.00V227.89h-1.00ZM446.00 182.26h1.00V210.75h-1.00ZM447.00 184.10h1.00V227.76h-1.00ZM448.00 184.66h1.00V227.51h-1.00ZM449.00 192.97h1.00V220.21h-1.00ZM450.00 182.38h1.00V226.66h-1.00ZM451.00 188.81h1.00V226.81h-1.00ZM452.00 182.91h1.00V212.43h-1.00ZM453.00 184.23h1.00V226.31h-1.00ZM454.00 183.07h1.00V225.64h-1.00ZM455.00 200.43h1.00V225.52h-1.00ZM456.00 184.80h1.00V226.75h-1.00ZM457.00 189.82h1.00V225.95h-1.00ZM458.00 184.59h1.00V210.32h-1.00ZM459.00 183.12h1.00V226.16h-1.00ZM460.00 184.97h1.00V227.55h-1.00ZM461.00 187.35h1.00V222.25h-1.00ZM462.00 183.95h1.00V226.97h-1.00ZM463.00 194.25h1.00V227.64h-1.00ZM464.00 182.83h1.00V210.53h-1.00ZM465.00 183.37h1.00V227.16h-1.00ZM466.00 183.29h1.00V226.27h-1.00ZM467.00 200.92h1.00V220.23h-1.00ZM468.00 185.23h1.00V227.41h-1.00ZM469.00 188.09h1.00V226.07h-1.00ZM470.00 184.89h1.00V209.18h-1.00ZM471.00 185.31h1.00V227.37h-1.00ZM472.00 197.05h1.00V223.96h-1.00ZM473.00 183.47h1.00V227.30h-1.00ZM474.00 189.84h1.00V227.17h-1.00ZM475.00 185.23h1.00V216.72h-1.00ZM476.00 182.95h1.00V225.47h-1.00ZM477.00 185.01h1.00V226.71h-1.00ZM478.00 196.90h1.00V222.96h-1.00ZM479.00 185.51h1.00V226.82h-1.00ZM480.00 185.40h1.00V226.50h-1.00ZM481.00 185.39h1.00V216.61h-1.00ZM482.00 185.54h1.00V225.72h-1.00ZM483.00 191.81h1.00V227.31h-1.00ZM484.00 184.47h1.00V223.12h-1.00ZM485.00 183.29h1.00V227.17h-1.00ZM486.00 189.55h1.00V225.23h-1.00ZM487.00 183.66h1.00V210.32h-1.00ZM488.00 191.08h1.00V226.20h-1.00ZM489.00 183.43h1.00V225.04h-1.00ZM490.00 201.96h1.00V222.17h-1.00ZM491.00 184.36h1.00V225.43h-1.00ZM492.00 186.90h1.00V226.50h-1.00ZM493.00 185.69h1.00V209.12h-1.00ZM494.00 184.03h1.00V225.97h-1.00ZM495.00 186.89h1.00V227.29h-1.00ZM496.00 194.10h1.00V223.02h-1.00ZM497.00 185.55h1.00V226.51h-1.00ZM498.00 185.75h1.00V227.20h-1.00ZM499.00 197.39h1.00V213.31h-1.00ZM500.00 186.03h1.00V226.29h-1.00ZM501.00 198.23h1.00V227.21h-1.00ZM502.00 195.59h1.00V223.68h-1.00ZM503.00 185.93h1.00V227.13h-1.00ZM504.00 184.01h1.00V226.80h-1.00ZM505.00 185.94h1.00V217.44h-1.00ZM506.00 185.36h1.00V227.13h-1.00ZM507.00 184.37h1.00V226.44h-1.00ZM508.00 201.15h1.00V223.95h-1.00ZM509.00 184.13h1.00V225.21h-1.00ZM510.00 190.69h1.00V226.26h-1.00ZM511.00 186.23h1.00V210.20h-1.00ZM512.00 183.86h1.00V225.57h-1.00ZM513.00 183.85h1.00V225.94h-1.00ZM514.00 198.93h1.00V221.56h-1.00ZM515.00 183.81h1.00V225.25h-1.00ZM516.00 191.96h1.00V225.57h-1.00ZM517.00 184.70h1.00V218.64h-1.00ZM518.00 185.98h1.00V226.05h-1.00ZM519.00 184.58h1.00V226.48h-1.00ZM520.00 191.95h1.00V223.43h-1.00ZM521.00 185.33h1.00V224.72h-1.00ZM522.00 188.18h1.00V226.96h-1.00ZM523.00 183.92h1.00V209.01h-1.00ZM524.00 185.72h1.00V225.34h-1.00ZM525.00 185.47h1.00V225.86h-1.00ZM526.00 193.65h1.00V223.32h-1.00ZM527.00 185.26h1.00V226.03h-1.00ZM528.00 189.56h1.00V225.86h-1.00ZM529.00 184.08h1.00V214.46h-1.00ZM530.00 185.98h1.00V225.79h-1.00ZM531.00 184.35h1.00V225.03h-1.00ZM532.00 193.72h1.00V215.22h-1.00ZM533.00 184.60h1.00V224.83h-1.00ZM534.00 186.97h1.00V227.05h-1.00ZM535.00 185.30h1.00V227.05h-1.00ZM536.00 186.23h1.00V226.04h-1.00ZM537.00 202.69h1.00V223.62h-1.00ZM538.00 185.44h1.00V225.84h-1.00ZM539.00 188.01h1.00V226.72h-1.00ZM540.00 185.00h1.00V210.54h-1.00ZM541.00 185.53h1.00V224.87h-1.00ZM542.00 185.14h1.00V226.39h-1.00ZM543.00 202.94h1.00V222.23h-1.00ZM544.00 196.72h1.00V225.56h-1.00ZM545.00 189.87h1.00V224.57h-1.00ZM546.00 185.78h1.00V214.99h-1.00ZM547.00 186.39h1.00V224.85h-1.00ZM548.00 185.52h1.00V226.44h-1.00ZM549.00 197.29h1.00V224.76h-1.00ZM550.00 186.07h1.00V226.51h-1.00ZM551.00 186.63h1.00V224.91h-1.00ZM552.00 197.74h1.00V215.61h-1.00ZM553.00 186.83h1.00V226.29h-1.00ZM554.00 186.68h1.00V226.78h-1.00ZM555.00 201.67h1.00V219.97h-1.00ZM556.00 192.45h1.00V226.57h-1.00ZM557.00 189.49h1.00V226.15h-1.00ZM558.00 186.06h1.00V221.50h-1.00ZM559.00 185.34h1.00V226.74h-1.00ZM560.00 186.14h1.00V226.39h-1.00ZM561.00 196.74h1.00V224.46h-1.00ZM562.00 184.81h1.00V226.91h-1.00ZM563.00 188.27h1.00V225.87h-1.00ZM564.00 185.39h1.00V210.32h-1.00ZM565.00 185.00h1.00V212.68h-1.00ZM566.00 186.26h1.00V224.83h-1.00ZM567.00 186.44h1.00V222.48h-1.00ZM568.00 187.17h1.00V221.38h-1.00ZM569.00 190.03h1.00V226.24h-1.00ZM570.00 187.21h1.00V216.71h-1.00ZM571.00 185.76h1.00V225.80h-1.00ZM572.00 186.60h1.00V226.27h-1.00ZM573.00 196.28h1.00V224.12h-1.00ZM574.00 186.21h1.00V224.95h-1.00ZM575.00 188.71h1.00V226.32h-1.00ZM576.00 185.33h1.00V210.30h-1.00ZM577.00 186.53h1.00V224.90h-1.00ZM578.00 186.56h1.00V226.74h-1.00ZM579.00 201.14h1.00V223.64h-1.00ZM580.00 186.97h1.00V225.48h-1.00ZM581.00 190.78h1.00V225.83h-1.00ZM582.00 185.69h1.00V211.98h-1.00ZM583.00 186.38h1.00V224.47h-1.00ZM584.00 185.13h1.00V225.24h-1.00ZM585.00 195.22h1.00V221.47h-1.00ZM586.00 187.42h1.00V225.81h-1.00ZM587.00 190.65h1.00V225.82h-1.00ZM588.00 187.21h1.00V209.96h-1.00ZM589.00 185.26h1.00V226.51h-1.00ZM590.00 185.20h1.00V226.47h-1.00ZM591.00 197.02h1.00V221.51h-1.00ZM592.00 186.95h1.00V224.37h-1.00ZM593.00 188.38h1.00V224.31h-1.00ZM594.00 187.60h1.00V210.12h-1.00ZM595.00 198.61h1.00V224.69h-1.00ZM596.00 199.09h1.00V226.30h-1.00ZM597.00 185.64h1.00V225.78h-1.00ZM598.00 186.66h1.00V225.44h-1.00ZM599.00 185.86h1.00V211.86h-1.00ZM600.00 186.56h1.00V225.67h-1.00ZM601.00 187.09h1.00V224.59h-1.00ZM602.00 195.46h1.00V222.53h-1.00ZM603.00 185.85h1.00V224.33h-1.00ZM604.00 191.05h1.00V224.81h-1.00ZM605.00 186.61h1.00V213.24h-1.00ZM606.00 187.08h1.00V226.13h-1.00ZM607.00 187.12h1.00V225.63h-1.00ZM608.00 202.68h1.00V220.63h-1.00ZM609.00 186.53h1.00V225.91h-1.00ZM610.00 188.56h1.00V225.99h-1.00ZM611.00 187.68h1.00V210.37h-1.00ZM612.00 187.63h1.00V226.01h-1.00ZM613.00 186.14h1.00V226.41h-1.00ZM614.00 198.80h1.00V222.06h-1.00ZM615.00 185.60h1.00V224.76h-1.00ZM616.00 187.55h1.00V225.26h-1.00ZM617.00 185.70h1.00V215.75h-1.00ZM618.00 187.10h1.00V226.05h-1.00ZM619.00 187.25h1.00V224.74h-1.00ZM620.00 201.24h1.00V221.82h-1.00ZM621.00 186.19h1.00V226.18h-1.00ZM622.00 192.46h1.00V225.36h-1.00ZM623.00 187.24h1.00V211.22h-1.00ZM624.00 187.06h1.00V225.15h-1.00ZM625.00 186.94h1.00V226.35h-1.00ZM626.00 195.29h1.00V222.54h-1.00ZM627.00 191.71h1.00V225.25h-1.00ZM628.00 189.84h1.00V222.58h-1.00ZM629.00 186.26h1.00V216.36h-1.00ZM630.00 187.92h1.00V224.49h-1.00ZM631.00 188.03h1.00V226.21h-1.00ZM632.00 203.46h1.00V221.58h-1.00ZM633.00 187.33h1.00V224.92h-1.00ZM634.00 192.34h1.00V225.98h-1.00ZM635.00 196.54h1.00V220.78h-1.00ZM636.00 187.97h1.00V226.06h-1.00ZM637.00 187.71h1.00V224.60h-1.00ZM638.00 195.58h1.00V219.93h-1.00ZM639.00 187.63h1.00V224.95h-1.00ZM640.00 187.56h1.00V225.47h-1.00ZM641.00 187.58h1.00V219.56h-1.00ZM642.00 187.44h1.00V225.11h-1.00ZM643.00 186.65h1.00V224.76h-1.00ZM644.00 203.13h1.00V221.43h-1.00ZM645.00 188.66h1.00V224.94h-1.00ZM646.00 190.05h1.00V225.64h-1.00ZM647.00 187.07h1.00V214.10h-1.00ZM648.00 186.62h1.00V223.90h-1.00ZM649.00 188.31h1.00V224.69h-1.00ZM650.00 201.16h1.00V219.89h-1.00ZM651.00 187.58h1.00V224.64h-1.00ZM652.00 191.99h1.00V224.98h-1.00ZM653.00 187.46h1.00V216.69h-1.00ZM654.00 188.62h1.00V225.57h-1.00ZM655.00 188.91h1.00V225.61h-1.00ZM656.00 197.57h1.00V223.60h-1.00ZM657.00 187.53h1.00V223.57h-1.00ZM658.00 199.39h1.00V223.59h-1.00ZM659.00 187.62h1.00V214.74h-1.00ZM660.00 187.37h1.00V225.70h-1.00ZM661.00 199.11h1.00V214.03h-1.00ZM662.00 187.39h1.00V223.55h-1.00ZM663.00 190.14h1.00V224.13h-1.00ZM664.00 187.79h1.00V213.79h-1.00ZM665.00 198.90h1.00V224.54h-1.00ZM666.00 189.16h1.00V213.22h-1.00ZM667.00 199.77h1.00V222.31h-1.00ZM668.00 188.30h1.00V225.21h-1.00ZM669.00 192.75h1.00V225.60h-1.00ZM670.00 199.16h1.00V222.70h-1.00ZM671.00 188.63h1.00V224.40h-1.00ZM672.00 188.00h1.00V215.37h-1.00ZM673.00 204.04h1.00V221.64h-1.00ZM674.00 188.80h1.00V225.22h-1.00ZM675.00 193.33h1.00V225.22h-1.00ZM676.00 188.19h1.00V210.18h-1.00ZM677.00 187.51h1.00V224.09h-1.00ZM678.00 187.46h1.00V223.70h-1.00ZM679.00 202.96h1.00V221.57h-1.00ZM680.00 188.95h1.00V223.84h-1.00ZM681.00 193.82h1.00V223.74h-1.00ZM682.00 189.15h1.00V209.74h-1.00ZM683.00 188.23h1.00V224.30h-1.00ZM684.00 187.99h1.00V225.44h-1.00ZM685.00 196.05h1.00V223.39h-1.00ZM686.00 188.48h1.00V225.34h-1.00ZM687.00 193.70h1.00V223.81h-1.00ZM688.00 187.63h1.00V212.97h-1.00ZM689.00 188.60h1.00V225.23h-1.00ZM690.00 188.55h1.00V224.43h-1.00ZM691.00 198.15h1.00V221.03h-1.00ZM692.00 188.73h1.00V223.12h-1.00ZM693.00 192.78h1.00V224.81h-1.00ZM694.00 188.54h1.00V214.58h-1.00ZM695.00 189.53h1.00V225.29h-1.00ZM696.00 189.25h1.00V223.45h-1.00ZM697.00 196.67h1.00V223.74h-1.00ZM698.00 189.08h1.00V224.77h-1.00ZM699.00 193.56h1.00V223.72h-1.00ZM700.00 188.79h1.00V211.46h-1.00ZM701.00 189.90h1.00V224.44h-1.00ZM702.00 188.51h1.00V223.72h-1.00ZM703.00 202.77h1.00V219.02h-1.00ZM704.00 189.09h1.00V224.85h-1.00ZM705.00 191.60h1.00V225.15h-1.00ZM706.00 189.54h1.00V211.91h-1.00ZM707.00 189.30h1.00V216.44h-1.00ZM708.00 188.19h1.00V223.22h-1.00ZM709.00 197.08h1.00V222.38h-1.00ZM710.00 188.46h1.00V223.28h-1.00ZM711.00 193.59h1.00V224.25h-1.00ZM712.00 189.59h1.00V214.04h-1.00ZM713.00 188.57h1.00V223.26h-1.00ZM714.00 190.19h1.00V224.56h-1.00ZM715.00 200.98h1.00V222.89h-1.00ZM716.00 188.63h1.00V224.56h-1.00ZM717.00 193.75h1.00V222.91h-1.00ZM718.00 189.84h1.00V214.70h-1.00ZM719.00 189.90h1.00V222.99h-1.00ZM720.00 190.07h1.00V223.33h-1.00ZM721.00 198.67h1.00V221.78h-1.00ZM722.00 190.37h1.00V223.91h-1.00ZM723.00 196.52h1.00V209.31h-1.00ZM724.00 190.34h1.00V222.97h-1.00ZM725.00 190.02h1.00V223.94h-1.00ZM726.00 198.55h1.00V222.61h-1.00ZM727.00 188.70h1.00V224.62h-1.00ZM728.00 189.05h1.00V222.90h-1.00ZM729.00 188.81h1.00V210.37h-1.00ZM730.00 189.38h1.00V218.94h-1.00ZM731.00 189.38h1.00V222.96h-1.00ZM732.00 201.34h1.00V219.11h-1.00ZM733.00 189.70h1.00V223.55h-1.00ZM734.00 191.46h1.00V224.42h-1.00ZM735.00 190.82h1.00V212.07h-1.00ZM736.00 189.06h1.00V224.31h-1.00ZM737.00 189.14h1.00V222.63h-1.00ZM738.00 202.07h1.00V221.51h-1.00ZM739.00 189.78h1.00V224.10h-1.00Z" fill="#008000"/><path d="M147.70 84.99h0.30V120.38h-0.30ZM149.00 84.99h0.30V120.38h-0.30ZM147.70 191.94h0.30V195.42h-0.30ZM149.00 191.94h0.30V195.42h-0.30ZM149.70 86.01h0.30V111.38h-0.30ZM151.00 86.01h0.30V111.38h-0.30ZM150.70 156.99h0.30V196.50h-0.30ZM152.00 156.99h0.30V196.50h-0.30ZM153.70 90.13h0.30V119.41h-0.30ZM155.00 90.13h0.30V119.41h-0.30ZM155.70 95.36h0.30V98.25h-0.30ZM157.00 95.36h0.30V98.25h-0.30ZM156.70 171.33h0.30V197.23h-0.30ZM158.00 171.33h0.30V197.23h-0.30ZM158.70 102.01h0.30V116.24h-0.30ZM160.00 102.01h0.30V116.24h-0.30ZM160.70 108.93h0.30V117.58h-0.30ZM162.00 108.93h0.30V117.58h-0.30ZM161.70 163.02h0.30V199.46h-0.30ZM163.00 163.02h0.30V199.46h-0.30ZM164.70 116.50h0.30V126.20h-0.30ZM166.00 116.50h0.30V126.20h-0.30ZM164.70 198.26h0.30V201.56h-0.30ZM166.00 198.26h0.30V201.56h-0.30ZM167.70 178.42h0.30V203.84h-0.30ZM169.00 178.42h0.30V203.84h-0.30ZM168.70 121.94h0.30V135.87h-0.30ZM170.00 121.94h0.30V135.87h-0.30ZM170.70 125.15h0.30V139.80h-0.30ZM172.00 125.15h0.30V139.80h-0.30ZM172.70 128.52h0.30V136.66h-0.30ZM174.00 128.52h0.30V136.66h-0.30ZM173.70 185.02h0.30V207.83h-0.30ZM175.00 185.02h0.30V207.83h-0.30ZM176.70 134.40h0.30V143.54h-0.30ZM178.00 134.40h0.30V143.54h-0.30ZM176.70 204.75h0.30V209.13h-0.30ZM178.00 204.75h0.30V209.13h-0.30ZM178.70 136.30h0.30V137.91h-0.30ZM180.00 136.30h0.30V137.91h-0.30ZM179.70 178.88h0.30V210.22h-0.30ZM181.00 178.88h0.30V210.22h-0.30ZM182.70 204.27h0.30V210.93h-0.30ZM184.00 204.27h0.30V210.93h-0.30ZM184.70 141.17h0.30V148.46h-0.30ZM186.00 141.17h0.30V148.46h-0.30ZM185.70 191.43h0.30V211.25h-0.30ZM187.00 191.43h0.30V211.25h-0.30ZM188.70 144.19h0.30V165.86h-0.30ZM190.00 144.19h0.30V165.86h-0.30ZM188.70 204.52h0.30V211.57h-0.30ZM190.00 204.52h0.30V211.57h-0.30ZM190.70 145.71h0.30V151.11h-0.30ZM192.00 145.71h0.30V151.11h-0.30ZM191.70 188.61h0.30V211.89h-0.30ZM193.00 188.61h0.30V211.89h-0.30ZM192.70 200.83h0.30V211.98h-0.30ZM194.00 200.83h0.30V211.98h-0.30ZM194.70 148.20h0.30V165.22h-0.30ZM196.00 148.20h0.30V165.22h-0.30ZM196.70 149.39h0.30V152.14h-0.30ZM198.00 149.39h0.30V152.14h-0.30ZM197.70 190.09h0.30V213.24h-0.30ZM199.00 190.09h0.30V213.24h-0.30ZM200.70 151.74h0.30V165.79h-0.30ZM202.00 151.74h0.30V165.79h-0.30ZM200.70 209.48h0.30V214.00h-0.30ZM202.00 209.48h0.30V214.00h-0.30ZM203.70 192.11h0.30V214.58h-0.30ZM205.00 192.11h0.30V214.58h-0.30ZM206.70 154.90h0.30V163.09h-0.30ZM208.00 154.90h0.30V163.09h-0.30ZM206.70 198.33h0.30V215.14h-0.30ZM208.00 198.33h0.30V215.14h-0.30ZM208.70 155.70h0.30V158.98h-0.30ZM210.00 155.70h0.30V158.98h-0.30ZM209.70 191.96h0.30V215.69h-0.30ZM211.00 191.96h0.30V215.69h-0.30ZM212.70 157.31h0.30V169.96h-0.30ZM214.00 157.31h0.30V169.96h-0.30ZM214.70 158.11h0.30V161.51h-0.30ZM216.00 158.11h0.30V161.51h-0.30ZM215.70 197.67h0.30V216.78h-0.30ZM217.00 197.67h0.30V216.78h-0.30ZM218.70 159.71h0.30V172.62h-0.30ZM220.00 159.71h0.30V172.62h-0.30ZM219.70 160.09h0.30V167.25h-0.30ZM221.00 160.09h0.30V167.25h-0.30ZM220.70 193.02h0.30V217.62h-0.30ZM222.00 193.02h0.30V217.62h-0.30ZM221.70 160.87h0.30V178.43h-0.30ZM223.00 160.87h0.30V178.43h-0.30ZM222.70 161.25h0.30V169.25h-0.30ZM224.00 161.25h0.30V169.25h-0.30ZM223.70 161.64h0.30V169.38h-0.30ZM225.00 161.64h0.30V169.38h-0.30ZM223.70 214.03h0.30V218.11h-0.30ZM225.00 214.03h0.30V218.11h-0.30ZM224.70 162.03h0.30V177.41h-0.30ZM226.00 162.03h0.30V177.41h-0.30ZM225.70 162.41h0.30V166.75h-0.30ZM227.00 162.41h0.30V166.75h-0.30ZM225.70 214.41h0.30V218.44h-0.30ZM227.00 214.41h0.30V218.44h-0.30ZM226.70 199.04h0.30V218.60h-0.30ZM228.00 199.04h0.30V218.60h-0.30ZM229.70 163.96h0.30V173.91h-0.30ZM231.00 163.96h0.30V173.91h-0.30ZM229.70 212.51h0.30V219.09h-0.30ZM231.00 212.51h0.30V219.09h-0.30ZM231.70 164.63h0.30V168.75h-0.30ZM233.00 164.63h0.30V168.75h-0.30ZM232.70 201.91h0.30V219.56h-0.30ZM234.00 201.91h0.30V219.56h-0.30ZM235.70 165.42h0.30V172.53h-0.30ZM237.00 165.42h0.30V172.53h-0.30ZM235.70 215.28h0.30V220.02h-0.30ZM237.00 215.28h0.30V220.02h-0.30ZM238.70 198.97h0.30V220.47h-0.30ZM240.00 198.97h0.30V220.47h-0.30ZM241.70 166.60h0.30V179.92h-0.30ZM243.00 166.60h0.30V179.92h-0.30ZM241.70 219.36h0.30V220.93h-0.30ZM243.00 219.36h0.30V220.93h-0.30ZM244.70 198.67h0.30V221.39h-0.30ZM246.00 198.67h0.30V221.39h-0.30ZM247.70 167.66h0.30V181.17h-0.30ZM249.00 167.66h0.30V181.17h-0.30ZM249.70 167.99h0.30V170.71h-0.30ZM251.00 167.99h0.30V170.71h-0.30ZM250.70 205.53h0.30V222.45h-0.30ZM252.00 205.53h0.30V222.45h-0.30ZM253.70 168.64h0.30V185.33h-0.30ZM255.00 168.64h0.30V185.33h-0.30ZM255.70 168.96h0.30V172.55h-0.30ZM257.00 168.96h0.30V172.55h-0.30ZM256.70 211.28h0.30V223.50h-0.30ZM258.00 211.28h0.30V223.50h-0.30ZM257.70 221.84h0.30V223.67h-0.30ZM259.00 221.84h0.30V223.67h-0.30ZM259.70 169.60h0.30V183.90h-0.30ZM261.00 169.60h0.30V183.90h-0.30ZM260.70 169.76h0.30V174.02h-0.30ZM262.00 169.76h0.30V174.02h-0.30ZM261.70 169.91h0.30V176.04h-0.30ZM263.00 169.91h0.30V176.04h-0.30ZM262.70 210.89h0.30V224.32h-0.30ZM264.00 210.89h0.30V224.32h-0.30ZM265.70 170.50h0.30V181.76h-0.30ZM267.00 170.50h0.30V181.76h-0.30ZM267.70 170.80h0.30V173.04h-0.30ZM269.00 170.80h0.30V173.04h-0.30ZM268.70 210.39h0.30V224.46h-0.30ZM270.00 210.39h0.30V224.46h-0.30ZM271.70 171.39h0.30V185.69h-0.30ZM273.00 171.39h0.30V185.69h-0.30ZM271.70 218.87h0.30V224.53h-0.30ZM273.00 218.87h0.30V224.53h-0.30ZM273.70 171.68h0.30V172.91h-0.30ZM275.00 171.68h0.30V172.91h-0.30ZM274.70 214.13h0.30V224.60h-0.30ZM276.00 214.13h0.30V224.60h-0.30ZM276.70 172.13h0.30V185.66h-0.30ZM278.00 172.13h0.30V185.66h-0.30ZM277.70 172.28h0.30V188.57h-0.30ZM279.00 172.28h0.30V188.57h-0.30ZM277.70 218.86h0.30V224.67h-0.30ZM279.00 218.86h0.30V224.67h-0.30ZM279.70 172.57h0.30V186.99h-0.30ZM281.00 172.57h0.30V186.99h-0.30ZM280.70 202.63h0.30V224.74h-0.30ZM282.00 202.63h0.30V224.74h-0.30ZM282.70 173.01h0.30V188.00h-0.30ZM284.00 173.01h0.30V188.00h-0.30ZM284.70 173.31h0.30V178.38h-0.30ZM286.00 173.31h0.30V178.38h-0.30ZM288.70 173.90h0.30V186.11h-0.30ZM290.00 173.90h0.30V186.11h-0.30ZM291.70 214.24h0.30V224.99h-0.30ZM293.00 214.24h0.30V224.99h-0.30ZM294.70 174.69h0.30V185.87h-0.30ZM296.00 174.69h0.30V185.87h-0.30ZM296.70 174.95h0.30V181.59h-0.30ZM298.00 174.95h0.30V181.59h-0.30ZM297.70 215.01h0.30V225.12h-0.30ZM299.00 215.01h0.30V225.12h-0.30ZM300.70 175.47h0.30V190.56h-0.30ZM302.00 175.47h0.30V190.56h-0.30ZM302.70 175.73h0.30V181.08h-0.30ZM304.00 175.73h0.30V181.08h-0.30ZM303.70 209.99h0.30V225.26h-0.30ZM305.00 209.99h0.30V225.26h-0.30ZM304.70 212.09h0.30V225.28h-0.30ZM306.00 212.09h0.30V225.28h-0.30ZM306.70 176.25h0.30V187.44h-0.30ZM308.00 176.25h0.30V187.44h-0.30ZM306.70 220.12h0.30V225.32h-0.30ZM308.00 220.12h0.30V225.32h-0.30ZM309.70 176.64h0.30V191.42h-0.30ZM311.00 176.64h0.30V191.42h-0.30ZM309.70 207.53h0.30V225.39h-0.30ZM311.00 207.53h0.30V225.39h-0.30ZM312.70 177.03h0.30V191.92h-0.30ZM314.00 177.03h0.30V191.92h-0.30ZM312.70 220.28h0.30V225.46h-0.30ZM314.00 220.28h0.30V225.46h-0.30ZM314.70 177.29h0.30V182.24h-0.30ZM316.00 177.29h0.30V182.24h-0.30ZM315.70 215.89h0.30V225.52h-0.30ZM317.00 215.89h0.30V225.52h-0.30ZM317.70 177.68h0.30V185.23h-0.30ZM319.00 177.68h0.30V185.23h-0.30ZM318.70 177.81h0.30V194.63h-0.30ZM320.00 177.81h0.30V194.63h-0.30ZM318.70 222.20h0.30V225.59h-0.30ZM320.00 222.20h0.30V225.59h-0.30ZM320.70 178.07h0.30V180.23h-0.30ZM322.00 178.07h0.30V180.23h-0.30ZM321.70 209.17h0.30V225.65h-0.30ZM323.00 209.17h0.30V225.65h-0.30ZM324.70 178.59h0.30V194.66h-0.30ZM326.00 178.59h0.30V194.66h-0.30ZM324.70 221.61h0.30V225.72h-0.30ZM326.00 221.61h0.30V225.72h-0.30ZM325.70 221.05h0.30V225.74h-0.30ZM327.00 221.05h0.30V225.74h-0.30ZM326.70 178.85h0.30V180.51h-0.30ZM328.00 178.85h0.30V180.51h-0.30ZM327.70 216.44h0.30V225.79h-0.30ZM329.00 216.44h0.30V225.79h-0.30ZM330.70 179.27h0.30V191.34h-0.30ZM332.00 179.27h0.30V191.34h-0.30ZM330.70 221.31h0.30V225.82h-0.30ZM332.00 221.31h0.30V225.82h-0.30ZM332.70 179.39h0.30V183.79h-0.30ZM334.00 179.39h0.30V183.79h-0.30ZM333.70 214.62h0.30V225.81h-0.30ZM335.00 214.62h0.30V225.81h-0.30ZM335.70 212.42h0.30V225.80h-0.30ZM337.00 212.42h0.30V225.80h-0.30ZM336.70 179.63h0.30V189.81h-0.30ZM338.00 179.63h0.30V189.81h-0.30ZM336.70 224.73h0.30V225.80h-0.30ZM338.00 224.73h0.30V225.80h-0.30ZM338.70 179.75h0.30V181.73h-0.30ZM340.00 179.75h0.30V181.73h-0.30ZM339.70 212.39h0.30V225.79h-0.30ZM341.00 212.39h0.30V225.79h-0.30ZM342.70 179.99h0.30V194.38h-0.30ZM344.00 179.99h0.30V194.38h-0.30ZM342.70 224.17h0.30V225.78h-0.30ZM344.00 224.17h0.30V225.78h-0.30ZM344.70 180.11h0.30V184.27h-0.30ZM346.00 180.11h0.30V184.27h-0.30ZM347.70 180.29h0.30V189.25h-0.30ZM349.00 180.29h0.30V189.25h-0.30ZM350.70 211.08h0.30V225.76h-0.30ZM352.00 211.08h0.30V225.76h-0.30ZM351.70 224.44h0.30V225.76h-0.30ZM353.00 224.44h0.30V225.76h-0.30ZM352.70 211.06h0.30V225.75h-0.30ZM354.00 211.06h0.30V225.75h-0.30ZM353.70 180.65h0.30V194.20h-0.30ZM355.00 180.65h0.30V194.20h-0.30ZM353.70 223.35h0.30V225.75h-0.30ZM355.00 223.35h0.30V225.75h-0.30ZM355.70 180.77h0.30V182.79h-0.30ZM357.00 180.77h0.30V182.79h-0.30ZM356.70 207.37h0.30V225.74h-0.30ZM358.00 207.37h0.30V225.74h-0.30ZM359.70 181.01h0.30V196.66h-0.30ZM361.00 181.01h0.30V196.66h-0.30ZM361.70 181.13h0.30V185.02h-0.30ZM363.00 181.13h0.30V185.02h-0.30ZM365.70 181.37h0.30V192.77h-0.30ZM367.00 181.37h0.30V192.77h-0.30ZM365.70 224.17h0.30V225.72h-0.30ZM367.00 224.17h0.30V225.72h-0.30ZM367.70 181.49h0.30V183.01h-0.30ZM369.00 181.49h0.30V183.01h-0.30ZM368.70 215.28h0.30V225.71h-0.30ZM370.00 215.28h0.30V225.71h-0.30ZM371.70 181.73h0.30V199.22h-0.30ZM373.00 181.73h0.30V199.22h-0.30ZM371.70 222.43h0.30V225.70h-0.30ZM373.00 222.43h0.30V225.70h-0.30ZM374.70 212.81h0.30V225.69h-0.30ZM376.00 212.81h0.30V225.69h-0.30ZM377.70 182.09h0.30V190.50h-0.30ZM379.00 182.09h0.30V190.50h-0.30ZM377.70 222.55h0.30V225.68h-0.30ZM379.00 222.55h0.30V225.68h-0.30ZM380.70 213.33h0.30V225.67h-0.30ZM382.00 213.33h0.30V225.67h-0.30ZM383.70 182.45h0.30V195.46h-0.30ZM385.00 182.45h0.30V195.46h-0.30ZM383.70 224.30h0.30V225.66h-0.30ZM385.00 224.30h0.30V225.66h-0.30ZM385.70 182.57h0.30V186.04h-0.30ZM387.00 182.57h0.30V186.04h-0.30ZM386.70 216.11h0.30V225.66h-0.30ZM388.00 216.11h0.30V225.66h-0.30ZM389.70 182.81h0.30V200.04h-0.30ZM391.00 182.81h0.30V200.04h-0.30ZM389.70 221.66h0.30V225.65h-0.30ZM391.00 221.66h0.30V225.65h-0.30ZM391.70 182.93h0.30V185.98h-0.30ZM393.00 182.93h0.30V185.98h-0.30ZM392.70 210.54h0.30V225.64h-0.30ZM394.00 210.54h0.30V225.64h-0.30ZM395.70 183.17h0.30V200.99h-0.30ZM397.00 183.17h0.30V200.99h-0.30ZM395.70 220.96h0.30V225.63h-0.30ZM397.00 220.96h0.30V225.63h-0.30ZM396.70 183.23h0.30V184.69h-0.30ZM398.00 183.23h0.30V184.69h-0.30ZM397.70 183.29h0.30V185.21h-0.30ZM399.00 183.29h0.30V185.21h-0.30ZM398.70 210.62h0.30V225.62h-0.30ZM400.00 210.62h0.30V225.62h-0.30ZM401.70 183.45h0.30V201.19h-0.30ZM403.00 183.45h0.30V201.19h-0.30ZM401.70 221.62h0.30V225.60h-0.30ZM403.00 221.62h0.30V225.60h-0.30ZM404.70 183.53h0.30V188.55h-0.30ZM406.00 183.53h0.30V188.55h-0.30ZM404.70 209.03h0.30V225.58h-0.30ZM406.00 209.03h0.30V225.58h-0.30ZM407.70 222.98h0.30V225.56h-0.30ZM409.00 222.98h0.30V225.56h-0.30ZM408.70 183.64h0.30V186.71h-0.30ZM410.00 183.64h0.30V186.71h-0.30ZM409.70 211.96h0.30V225.54h-0.30ZM411.00 211.96h0.30V225.54h-0.30ZM412.70 183.75h0.30V197.83h-0.30ZM414.00 183.75h0.30V197.83h-0.30ZM414.70 183.81h0.30V185.37h-0.30ZM416.00 183.81h0.30V185.37h-0.30ZM415.70 212.87h0.30V225.49h-0.30ZM417.00 212.87h0.30V225.49h-0.30ZM418.70 183.92h0.30V195.36h-0.30ZM420.00 183.92h0.30V195.36h-0.30ZM418.70 222.90h0.30V225.47h-0.30ZM420.00 222.90h0.30V225.47h-0.30ZM421.70 214.48h0.30V225.45h-0.30ZM423.00 214.48h0.30V225.45h-0.30ZM424.70 184.08h0.30V197.79h-0.30ZM426.00 184.08h0.30V197.79h-0.30ZM424.70 224.33h0.30V225.43h-0.30ZM426.00 224.33h0.30V225.43h-0.30ZM426.70 184.14h0.30V187.29h-0.30ZM428.00 184.14h0.30V187.29h-0.30ZM427.70 210.31h0.30V225.40h-0.30ZM429.00 210.31h0.30V225.40h-0.30ZM430.70 184.25h0.30V192.52h-0.30ZM432.00 184.25h0.30V192.52h-0.30ZM430.70 222.51h0.30V225.38h-0.30ZM432.00 222.51h0.30V225.38h-0.30ZM433.70 217.04h0.30V225.36h-0.30ZM435.00 217.04h0.30V225.36h-0.30ZM436.70 184.41h0.30V197.24h-0.30ZM438.00 184.41h0.30V197.24h-0.30ZM436.70 218.49h0.30V225.34h-0.30ZM438.00 218.49h0.30V225.34h-0.30ZM438.70 184.47h0.30V187.11h-0.30ZM440.00 184.47h0.30V187.11h-0.30ZM439.70 214.47h0.30V225.31h-0.30ZM441.00 214.47h0.30V225.31h-0.30ZM442.70 184.58h0.30V193.93h-0.30ZM444.00 184.58h0.30V193.93h-0.30ZM444.70 184.64h0.30V187.06h-0.30ZM446.00 184.64h0.30V187.06h-0.30ZM445.70 210.75h0.30V225.27h-0.30ZM447.00 210.75h0.30V225.27h-0.30ZM448.70 184.75h0.30V192.97h-0.30ZM450.00 184.75h0.30V192.97h-0.30ZM448.70 220.21h0.30V225.24h-0.30ZM450.00 220.21h0.30V225.24h-0.30ZM450.70 184.80h0.30V188.81h-0.30ZM452.00 184.80h0.30V188.81h-0.30ZM451.70 212.43h0.30V225.22h-0.30ZM453.00 212.43h0.30V225.22h-0.30ZM454.70 184.91h0.30V200.43h-0.30ZM456.00 184.91h0.30V200.43h-0.30ZM456.70 184.97h0.30V189.82h-0.30ZM458.00 184.97h0.30V189.82h-0.30ZM457.70 210.32h0.30V225.18h-0.30ZM459.00 210.32h0.30V225.18h-0.30ZM460.70 185.08h0.30V187.35h-0.30ZM462.00 185.08h0.30V187.35h-0.30ZM460.70 222.25h0.30V225.15h-0.30ZM462.00 222.25h0.30V225.15h-0.30ZM462.70 185.13h0.30V194.25h-0.30ZM464.00 185.13h0.30V194.25h-0.30ZM463.70 210.53h0.30V225.13h-0.30ZM465.00 210.53h0.30V225.13h-0.30ZM466.70 185.24h0.30V200.92h-0.30ZM468.00 185.24h0.30V200.92h-0.30ZM466.70 220.23h0.30V225.11h-0.30ZM468.00 220.23h0.30V225.11h-0.30ZM468.70 185.30h0.30V188.09h-0.30ZM470.00 185.30h0.30V188.09h-0.30ZM469.70 209.18h0.30V225.08h-0.30ZM471.00 209.18h0.30V225.08h-0.30ZM471.70 185.38h0.30V197.05h-0.30ZM473.00 185.38h0.30V197.05h-0.30ZM471.70 223.96h0.30V225.07h-0.30ZM473.00 223.96h0.30V225.07h-0.30ZM473.70 185.44h0.30V189.84h-0.30ZM475.00 185.44h0.30V189.84h-0.30ZM474.70 216.72h0.30V225.05h-0.30ZM476.00 216.72h0.30V225.05h-0.30ZM477.70 185.55h0.30V196.90h-0.30ZM479.00 185.55h0.30V196.90h-0.30ZM477.70 222.96h0.30V225.02h-0.30ZM479.00 222.96h0.30V225.02h-0.30ZM480.70 216.61h0.30V225.00h-0.30ZM482.00 216.61h0.30V225.00h-0.30ZM482.70 185.68h0.30V191.81h-0.30ZM484.00 185.68h0.30V191.81h-0.30ZM483.70 223.12h0.30V224.98h-0.30ZM485.00 223.12h0.30V224.98h-0.30ZM485.70 185.77h0.30V189.55h-0.30ZM487.00 185.77h0.30V189.55h-0.30ZM486.70 210.32h0.30V224.96h-0.30ZM488.00 210.32h0.30V224.96h-0.30ZM487.70 185.82h0.30V191.08h-0.30ZM489.00 185.82h0.30V191.08h-0.30ZM489.70 185.88h0.30V201.96h-0.30ZM491.00 185.88h0.30V201.96h-0.30ZM489.70 222.17h0.30V224.93h-0.30ZM491.00 222.17h0.30V224.93h-0.30ZM491.70 185.93h0.30V186.90h-0.30ZM493.00 185.93h0.30V186.90h-0.30ZM492.70 209.12h0.30V224.91h-0.30ZM494.00 209.12h0.30V224.91h-0.30ZM494.70 186.02h0.30V186.89h-0.30ZM496.00 186.02h0.30V186.89h-0.30ZM495.70 186.04h0.30V194.10h-0.30ZM497.00 186.04h0.30V194.10h-0.30ZM495.70 223.02h0.30V224.89h-0.30ZM497.00 223.02h0.30V224.89h-0.30ZM498.70 186.13h0.30V197.39h-0.30ZM500.00 186.13h0.30V197.39h-0.30ZM498.70 213.31h0.30V224.86h-0.30ZM500.00 213.31h0.30V224.86h-0.30ZM500.70 186.16h0.30V198.23h-0.30ZM502.00 186.16h0.30V198.23h-0.30ZM501.70 186.18h0.30V195.59h-0.30ZM503.00 186.18h0.30V195.59h-0.30ZM501.70 223.68h0.30V224.84h-0.30ZM503.00 223.68h0.30V224.84h-0.30ZM504.70 217.44h0.30V224.82h-0.30ZM506.00 217.44h0.30V224.82h-0.30ZM507.70 186.28h0.30V201.15h-0.30ZM509.00 186.28h0.30V201.15h-0.30ZM507.70 223.95h0.30V224.80h-0.30ZM509.00 223.95h0.30V224.80h-0.30ZM509.70 186.31h0.30V190.69h-0.30ZM511.00 186.31h0.30V190.69h-0.30ZM510.70 210.20h0.30V224.78h-0.30ZM512.00 210.20h0.30V224.78h-0.30ZM513.70 186.37h0.30V198.93h-0.30ZM515.00 186.37h0.30V198.93h-0.30ZM513.70 221.56h0.30V224.76h-0.30ZM515.00 221.56h0.30V224.76h-0.30ZM515.70 186.40h0.30V191.96h-0.30ZM517.00 186.40h0.30V191.96h-0.30ZM516.70 218.64h0.30V224.74h-0.30ZM518.00 218.64h0.30V224.74h-0.30ZM519.70 186.47h0.30V191.95h-0.30ZM521.00 186.47h0.30V191.95h-0.30ZM519.70 223.43h0.30V224.72h-0.30ZM521.00 223.43h0.30V224.72h-0.30ZM521.70 186.50h0.30V188.18h-0.30ZM523.00 186.50h0.30V188.18h-0.30ZM522.70 209.01h0.30V224.70h-0.30ZM524.00 209.01h0.30V224.70h-0.30ZM525.70 186.56h0.30V193.65h-0.30ZM527.00 186.56h0.30V193.65h-0.30ZM525.70 223.32h0.30V224.68h-0.30ZM527.00 223.32h0.30V224.68h-0.30ZM527.70 186.59h0.30V189.56h-0.30ZM529.00 186.59h0.30V189.56h-0.30ZM528.70 214.46h0.30V224.66h-0.30ZM530.00 214.46h0.30V224.66h-0.30ZM531.70 186.66h0.30V193.72h-0.30ZM533.00 186.66h0.30V193.72h-0.30ZM531.70 215.22h0.30V224.64h-0.30ZM533.00 215.22h0.30V224.64h-0.30ZM536.70 186.74h0.30V202.69h-0.30ZM538.00 186.74h0.30V202.69h-0.30ZM536.70 223.62h0.30V224.61h-0.30ZM538.00 223.62h0.30V224.61h-0.30ZM538.70 186.77h0.30V188.01h-0.30ZM540.00 186.77h0.30V188.01h-0.30ZM539.70 210.54h0.30V224.59h-0.30ZM541.00 210.54h0.30V224.59h-0.30ZM542.70 186.83h0.30V202.94h-0.30ZM544.00 186.83h0.30V202.94h-0.30ZM542.70 222.23h0.30V224.56h-0.30ZM544.00 222.23h0.30V224.56h-0.30ZM543.70 186.85h0.30V196.72h-0.30ZM545.00 186.85h0.30V196.72h-0.30ZM544.70 186.87h0.30V189.87h-0.30ZM546.00 186.87h0.30V189.87h-0.30ZM545.70 214.99h0.30V224.54h-0.30ZM547.00 214.99h0.30V224.54h-0.30ZM548.70 186.93h0.30V197.29h-0.30ZM550.00 186.93h0.30V197.29h-0.30ZM551.70 186.98h0.30V197.74h-0.30ZM553.00 186.98h0.30V197.74h-0.30ZM551.70 215.61h0.30V224.50h-0.30ZM553.00 215.61h0.30V224.50h-0.30ZM554.70 187.03h0.30V201.67h-0.30ZM556.00 187.03h0.30V201.67h-0.30ZM554.70 219.97h0.30V224.48h-0.30ZM556.00 219.97h0.30V224.48h-0.30ZM555.70 187.04h0.30V192.45h-0.30ZM557.00 187.04h0.30V192.45h-0.30ZM556.70 187.06h0.30V189.49h-0.30ZM558.00 187.06h0.30V189.49h-0.30ZM557.70 221.50h0.30V224.46h-0.30ZM559.00 221.50h0.30V224.46h-0.30ZM560.70 187.12h0.30V196.74h-0.30ZM562.00 187.12h0.30V196.74h-0.30ZM562.70 187.15h0.30V188.27h-0.30ZM564.00 187.15h0.30V188.27h-0.30ZM563.70 210.32h0.30V224.42h-0.30ZM565.00 210.32h0.30V224.42h-0.30ZM564.70 212.68h0.30V224.42h-0.30ZM566.00 212.68h0.30V224.42h-0.30ZM566.70 222.48h0.30V224.40h-0.30ZM568.00 222.48h0.30V224.40h-0.30ZM567.70 221.38h0.30V224.40h-0.30ZM569.00 221.38h0.30V224.40h-0.30ZM568.70 187.25h0.30V190.03h-0.30ZM570.00 187.25h0.30V190.03h-0.30ZM569.70 216.71h0.30V224.38h-0.30ZM571.00 216.71h0.30V224.38h-0.30ZM572.70 187.31h0.30V196.28h-0.30ZM574.00 187.31h0.30V196.28h-0.30ZM574.70 187.34h0.30V188.71h-0.30ZM576.00 187.34h0.30V188.71h-0.30ZM575.70 210.30h0.30V224.34h-0.30ZM577.00 210.30h0.30V224.34h-0.30ZM578.70 187.41h0.30V201.14h-0.30ZM580.00 187.41h0.30V201.14h-0.30ZM580.70 187.44h0.30V190.78h-0.30ZM582.00 187.44h0.30V190.78h-0.30ZM581.70 211.98h0.30V224.30h-0.30ZM583.00 211.98h0.30V224.30h-0.30ZM584.70 187.50h0.30V195.22h-0.30ZM586.00 187.50h0.30V195.22h-0.30ZM584.70 221.47h0.30V224.28h-0.30ZM586.00 221.47h0.30V224.28h-0.30ZM586.70 187.54h0.30V190.65h-0.30ZM588.00 187.54h0.30V190.65h-0.30ZM587.70 209.96h0.30V224.26h-0.30ZM589.00 209.96h0.30V224.26h-0.30ZM590.70 187.60h0.30V197.02h-0.30ZM592.00 187.60h0.30V197.02h-0.30ZM590.70 221.51h0.30V224.24h-0.30ZM592.00 221.51h0.30V224.24h-0.30ZM592.70 187.63h0.30V188.38h-0.30ZM594.00 187.63h0.30V188.38h-0.30ZM593.70 210.12h0.30V224.22h-0.30ZM595.00 210.12h0.30V224.22h-0.30ZM594.70 187.66h0.30V198.61h-0.30ZM596.00 187.66h0.30V198.61h-0.30ZM595.70 187.68h0.30V199.09h-0.30ZM597.00 187.68h0.30V199.09h-0.30ZM598.70 211.86h0.30V224.19h-0.30ZM600.00 211.86h0.30V224.19h-0.30ZM601.70 187.77h0.30V195.46h-0.30ZM603.00 187.77h0.30V195.46h-0.30ZM601.70 222.53h0.30V224.16h-0.30ZM603.00 222.53h0.30V224.16h-0.30ZM603.70 187.81h0.30V191.05h-0.30ZM605.00 187.81h0.30V191.05h-0.30ZM604.70 213.24h0.30V224.14h-0.30ZM606.00 213.24h0.30V224.14h-0.30ZM607.70 187.87h0.30V202.68h-0.30ZM609.00 187.87h0.30V202.68h-0.30ZM607.70 220.63h0.30V224.12h-0.30ZM609.00 220.63h0.30V224.12h-0.30ZM610.70 210.37h0.30V224.10h-0.30ZM612.00 210.37h0.30V224.10h-0.30ZM613.70 187.97h0.30V198.80h-0.30ZM615.00 187.97h0.30V198.80h-0.30ZM613.70 222.06h0.30V224.08h-0.30ZM615.00 222.06h0.30V224.08h-0.30ZM616.70 215.75h0.30V224.06h-0.30ZM618.00 215.75h0.30V224.06h-0.30ZM619.70 188.07h0.30V201.24h-0.30ZM621.00 188.07h0.30V201.24h-0.30ZM619.70 221.82h0.30V224.04h-0.30ZM621.00 221.82h0.30V224.04h-0.30ZM621.70 188.12h0.30V192.46h-0.30ZM623.00 188.12h0.30V192.46h-0.30ZM622.70 211.22h0.30V224.00h-0.30ZM624.00 211.22h0.30V224.00h-0.30ZM625.70 188.22h0.30V195.29h-0.30ZM627.00 188.22h0.30V195.29h-0.30ZM625.70 222.54h0.30V223.96h-0.30ZM627.00 222.54h0.30V223.96h-0.30ZM626.70 188.25h0.30V191.71h-0.30ZM628.00 188.25h0.30V191.71h-0.30ZM627.70 188.27h0.30V189.84h-0.30ZM629.00 188.27h0.30V189.84h-0.30ZM627.70 222.58h0.30V223.93h-0.30ZM629.00 222.58h0.30V223.93h-0.30ZM628.70 216.36h0.30V223.92h-0.30ZM630.00 216.36h0.30V223.92h-0.30ZM631.70 188.38h0.30V203.46h-0.30ZM633.00 188.38h0.30V203.46h-0.30ZM631.70 221.58h0.30V223.88h-0.30ZM633.00 221.58h0.30V223.88h-0.30ZM633.70 188.43h0.30V192.34h-0.30ZM635.00 188.43h0.30V192.34h-0.30ZM634.70 188.45h0.30V196.54h-0.30ZM636.00 188.45h0.30V196.54h-0.30ZM634.70 220.78h0.30V223.84h-0.30ZM636.00 220.78h0.30V223.84h-0.30ZM637.70 188.53h0.30V195.58h-0.30ZM639.00 188.53h0.30V195.58h-0.30ZM637.70 219.93h0.30V223.80h-0.30ZM639.00 219.93h0.30V223.80h-0.30ZM640.70 219.56h0.30V223.76h-0.30ZM642.00 219.56h0.30V223.76h-0.30ZM643.70 188.68h0.30V203.13h-0.30ZM645.00 188.68h0.30V203.13h-0.30ZM643.70 221.43h0.30V223.72h-0.30ZM645.00 221.43h0.30V223.72h-0.30ZM645.70 188.73h0.30V190.05h-0.30ZM647.00 188.73h0.30V190.05h-0.30ZM646.70 214.10h0.30V223.68h-0.30ZM648.00 214.10h0.30V223.68h-0.30ZM649.70 188.84h0.30V201.16h-0.30ZM651.00 188.84h0.30V201.16h-0.30ZM649.70 219.89h0.30V223.64h-0.30ZM651.00 219.89h0.30V223.64h-0.30ZM651.70 188.89h0.30V191.99h-0.30ZM653.00 188.89h0.30V191.99h-0.30ZM652.70 216.69h0.30V223.60h-0.30ZM654.00 216.69h0.30V223.60h-0.30ZM655.70 188.99h0.30V197.57h-0.30ZM657.00 188.99h0.30V197.57h-0.30ZM657.70 189.04h0.30V199.39h-0.30ZM659.00 189.04h0.30V199.39h-0.30ZM658.70 214.74h0.30V223.53h-0.30ZM660.00 214.74h0.30V223.53h-0.30ZM660.70 189.12h0.30V199.11h-0.30ZM662.00 189.12h0.30V199.11h-0.30ZM660.70 214.03h0.30V223.50h-0.30ZM662.00 214.03h0.30V223.50h-0.30ZM662.70 189.17h0.30V190.14h-0.30ZM664.00 189.17h0.30V190.14h-0.30ZM663.70 213.79h0.30V223.46h-0.30ZM665.00 213.79h0.30V223.46h-0.30ZM664.70 189.22h0.30V198.90h-0.30ZM666.00 189.22h0.30V198.90h-0.30ZM665.70 213.22h0.30V223.43h-0.30ZM667.00 213.22h0.30V223.43h-0.30ZM666.70 189.27h0.30V199.77h-0.30ZM668.00 189.27h0.30V199.77h-0.30ZM666.70 222.31h0.30V223.42h-0.30ZM668.00 222.31h0.30V223.42h-0.30ZM668.70 189.33h0.30V192.75h-0.30ZM670.00 189.33h0.30V192.75h-0.30ZM669.70 189.35h0.30V199.16h-0.30ZM671.00 189.35h0.30V199.16h-0.30ZM671.70 215.37h0.30V223.35h-0.30ZM673.00 215.37h0.30V223.35h-0.30ZM672.70 189.43h0.30V204.04h-0.30ZM674.00 189.43h0.30V204.04h-0.30ZM672.70 221.64h0.30V223.34h-0.30ZM674.00 221.64h0.30V223.34h-0.30ZM674.70 189.48h0.30V193.33h-0.30ZM676.00 189.48h0.30V193.33h-0.30ZM675.70 210.18h0.30V223.30h-0.30ZM677.00 210.18h0.30V223.30h-0.30ZM678.70 189.58h0.30V202.96h-0.30ZM680.00 189.58h0.30V202.96h-0.30ZM678.70 221.57h0.30V223.26h-0.30ZM680.00 221.57h0.30V223.26h-0.30ZM680.70 189.63h0.30V193.82h-0.30ZM682.00 189.63h0.30V193.82h-0.30ZM681.70 209.74h0.30V223.22h-0.30ZM683.00 209.74h0.30V223.22h-0.30ZM684.70 189.74h0.30V196.05h-0.30ZM686.00 189.74h0.30V196.05h-0.30ZM686.70 189.79h0.30V193.70h-0.30ZM688.00 189.79h0.30V193.70h-0.30ZM687.70 212.97h0.30V223.14h-0.30ZM689.00 212.97h0.30V223.14h-0.30ZM690.70 189.89h0.30V198.15h-0.30ZM692.00 189.89h0.30V198.15h-0.30ZM690.70 221.03h0.30V223.10h-0.30ZM692.00 221.03h0.30V223.10h-0.30ZM692.70 189.94h0.30V192.78h-0.30ZM694.00 189.94h0.30V192.78h-0.30ZM693.70 214.58h0.30V223.06h-0.30ZM695.00 214.58h0.30V223.06h-0.30ZM696.70 190.04h0.30V196.67h-0.30ZM698.00 190.04h0.30V196.67h-0.30ZM698.70 190.10h0.30V193.56h-0.30ZM700.00 190.10h0.30V193.56h-0.30ZM699.70 211.46h0.30V222.98h-0.30ZM701.00 211.46h0.30V222.98h-0.30ZM702.70 190.20h0.30V202.77h-0.30ZM704.00 190.20h0.30V202.77h-0.30ZM702.70 219.02h0.30V222.95h-0.30ZM704.00 219.02h0.30V222.95h-0.30ZM704.70 190.25h0.30V191.60h-0.30ZM706.00 190.25h0.30V191.60h-0.30ZM705.70 211.91h0.30V222.91h-0.30ZM707.00 211.91h0.30V222.91h-0.30ZM706.70 216.44h0.30V222.89h-0.30ZM708.00 216.44h0.30V222.89h-0.30ZM708.70 190.35h0.30V197.08h-0.30ZM710.00 190.35h0.30V197.08h-0.30ZM710.70 190.40h0.30V193.59h-0.30ZM712.00 190.40h0.30V193.59h-0.30ZM711.70 214.04h0.30V222.83h-0.30ZM713.00 214.04h0.30V222.83h-0.30ZM714.70 190.51h0.30V200.98h-0.30ZM716.00 190.51h0.30V200.98h-0.30ZM716.70 190.56h0.30V193.75h-0.30ZM718.00 190.56h0.30V193.75h-0.30ZM717.70 214.70h0.30V222.75h-0.30ZM719.00 214.70h0.30V222.75h-0.30ZM720.70 190.66h0.30V198.67h-0.30ZM722.00 190.66h0.30V198.67h-0.30ZM720.70 221.78h0.30V222.71h-0.30ZM722.00 221.78h0.30V222.71h-0.30ZM722.70 190.71h0.30V196.52h-0.30ZM724.00 190.71h0.30V196.52h-0.30ZM722.70 209.31h0.30V222.68h-0.30ZM724.00 209.31h0.30V222.68h-0.30ZM725.70 190.79h0.30V198.55h-0.30ZM727.00 190.79h0.30V198.55h-0.30ZM728.70 210.37h0.30V222.60h-0.30ZM730.00 210.37h0.30V222.60h-0.30ZM729.70 218.94h0.30V222.59h-0.30ZM731.00 218.94h0.30V222.59h-0.30ZM731.70 190.94h0.30V201.34h-0.30ZM733.00 190.94h0.30V201.34h-0.30ZM731.70 219.11h0.30V222.56h-0.30ZM733.00 219.11h0.30V222.56h-0.30ZM734.70 212.07h0.30V222.52h-0.30ZM736.00 212.07h0.30V222.52h-0.30ZM737.70 191.10h0.30V202.07h-0.30ZM739.00 191.10h0.30V202.07h-0.30ZM737.70 221.51h0.30V222.48h-0.30ZM739.00 221.51h0.30V222.48h-0.30Z" fill="#d3e9d3"/><path d="M145.7 24V43M149.3 57.6V78M153.2 79V84" stroke="#5fb35f" stroke-width="1.1" fill="none"/><rect x="394.6" y="45.1" width="283.3" height="50.8" fill="#fff" stroke="#111" stroke-width="1.4"/><line x1="404" y1="58.4" x2="452.4" y2="58.4" stroke="#0000ff" stroke-width="1.2"/><line x1="404" y1="81.4" x2="452.4" y2="81.4" stroke="#008000" stroke-width="1.2"/><text x="456.9" y="64.8" font-size="16.8" textLength="213" lengthAdjust="spacingAndGlyphs" fill="#000">General conformable derivative</text><text x="456.9" y="89.2" font-size="16.8" textLength="156.1" lengthAdjust="spacingAndGlyphs" fill="#000">Conformable derivative</text><text x="61.13 83.09 94.08 116.04" y="82.60" font-size="39.5" fill="#000">0.02</text><text x="61.13 83.09 94.08" y="150.80" font-size="39.5" fill="#000">0.0</text><path transform="translate(116.04,150.80) scale(39.50,-39.50)" d="M0.374 0L0.286 0L0.286 0.562Q0.21 0.495 0.09 0.452L0.09 0.55Q0.23 0.605 0.312 0.716L0.374 0.716Z" fill="#000"/><text x="116.04" y="219.00" font-size="39.5" fill="#000">0</text><text x="61.13 83.09 94.08" y="287.20" font-size="39.5" fill="#000">0.0</text><rect x="48.97" y="275.11" width="11.65" height="3.40" fill="#000"/><path transform="translate(116.04,287.20) scale(39.50,-39.50)" d="M0.374 0L0.286 0L0.286 0.562Q0.21 0.495 0.09 0.452L0.09 0.55Q0.23 0.605 0.312 0.716L0.374 0.716Z" fill="#000"/><text x="61.13 83.09 94.08 116.04" y="355.40" font-size="39.5" fill="#000">0.02</text><rect x="48.97" y="343.31" width="11.65" height="3.40" fill="#000"/><text x="131.57" y="381.00" font-size="39.5" fill="#000">0</text><path transform="translate(250.67,381.00) scale(39.50,-39.50)" d="M0.374 0L0.286 0L0.286 0.562Q0.21 0.495 0.09 0.452L0.09 0.55Q0.23 0.605 0.312 0.716L0.374 0.716Z" fill="#000"/><text x="369.77" y="381.00" font-size="39.5" fill="#000">2</text><text x="488.87" y="381.00" font-size="39.5" fill="#000">3</text><text x="607.97" y="381.00" font-size="39.5" fill="#000">4</text><text x="727.07" y="381.00" font-size="39.5" fill="#000">5</text><text x="438.7" y="419.8" font-size="39.5" text-anchor="middle" fill="#000">Time (s)</text><text transform="translate(31.0,173.7) rotate(-90)" font-size="39.5" text-anchor="middle" fill="#000">V(t)</text><line x1="506.3" y1="189.2" x2="440.8" y2="472" stroke="#000" stroke-width="3.3"/><polygon points="430.3,469.6 451.4,474.5 436.3,493.1" fill="#000"/><g stroke="#454545" stroke-width="1.5" stroke-dasharray="1.6 2.25" fill="none"><line x1="343.5" y1="542.7" x2="343.5" y2="738.7"/><line x1="452.9" y1="542.7" x2="452.9" y2="738.7"/><line x1="234.1" y1="591.7" x2="561.8" y2="591.7"/><line x1="234.1" y1="640.7" x2="561.8" y2="640.7"/><line x1="234.1" y1="689.7" x2="561.8" y2="689.7"/></g><polyline points="234.4,640.3 257.5,625.3 282.0,641.5 306.2,652.4 333.9,631.6 355.9,626.6 379.8,646.4 402.3,650.6 427.3,629.8 450.7,629.8 475.6,649.3 499.5,646.6 528.8,625.6 561.8,643.6" fill="none" stroke="#0000ff" stroke-width="1.7"/><polyline points="234.4,640.3 257.5,608.0 281.2,644.2 306.2,670.1 333.9,622.9 355.9,612.3 379.8,656.8 402.3,664.8 427.3,618.9 450.7,617.4 475.6,663.9 499.5,656.2 528.8,608.4 561.8,649.7" fill="none" stroke="#008000" stroke-width="1.4"/><g fill="none" stroke-width="1.3"><line x1="234.1" y1="542.7" x2="561.8" y2="542.7" stroke="#444"/><line x1="234.1" y1="738.7" x2="561.8" y2="738.7" stroke="#555"/><line x1="234.1" y1="542.7" x2="234.1" y2="738.7" stroke="#999"/><line x1="561.8" y1="542.7" x2="561.8" y2="738.7" stroke="#aaa"/></g><g stroke="#333" stroke-width="1.2"><line x1="343.5" y1="738.7" x2="343.5" y2="733.7"/><line x1="343.5" y1="542.7" x2="343.5" y2="547.7"/><line x1="452.9" y1="738.7" x2="452.9" y2="733.7"/><line x1="452.9" y1="542.7" x2="452.9" y2="547.7"/><line x1="234.1" y1="591.7" x2="239.1" y2="591.7"/><line x1="561.8" y1="591.7" x2="556.8" y2="591.7"/><line x1="234.1" y1="640.7" x2="239.1" y2="640.7"/><line x1="561.8" y1="640.7" x2="556.8" y2="640.7"/><line x1="234.1" y1="689.7" x2="239.1" y2="689.7"/><line x1="561.8" y1="689.7" x2="556.8" y2="689.7"/></g><text x="192.30 203.58 209.23" y="549.30" font-size="20.3" fill="#000">0.0</text><path transform="translate(220.51,549.30) scale(20.30,-20.30)" d="M0.374 0L0.286 0L0.286 0.562Q0.21 0.495 0.09 0.452L0.09 0.55Q0.23 0.605 0.312 0.716L0.374 0.716Z" fill="#000"/><text x="181.01 192.30 197.94 209.23 220.51" y="598.25" font-size="20.3" fill="#000">0.005</text><text x="220.51" y="647.20" font-size="20.3" fill="#000">0</text><text x="181.01 192.30 197.94 209.23 220.51" y="696.15" font-size="20.3" fill="#000">0.005</text><rect x="174.76" y="689.94" width="5.99" height="1.75" fill="#000"/><text x="192.30 203.58 209.23" y="745.10" font-size="20.3" fill="#000">0.0</text><rect x="186.04" y="738.89" width="5.99" height="1.75" fill="#000"/><path transform="translate(220.51,745.10) scale(20.30,-20.30)" d="M0.374 0L0.286 0L0.286 0.562Q0.21 0.495 0.09 0.452L0.09 0.55Q0.23 0.605 0.312 0.716L0.374 0.716Z" fill="#000"/><text x="228.46" y="758.00" font-size="20.3" fill="#000">3</text><text x="323.55 334.83 340.48 351.77" y="758.00" font-size="20.3" fill="#000">3.02</text><text x="432.85 444.13 449.78 461.07" y="758.00" font-size="20.3" fill="#000">3.04</text><text x="542.05 553.33 558.98 570.27" y="758.00" font-size="20.3" fill="#000">3.06</text></svg>
</body></html>
